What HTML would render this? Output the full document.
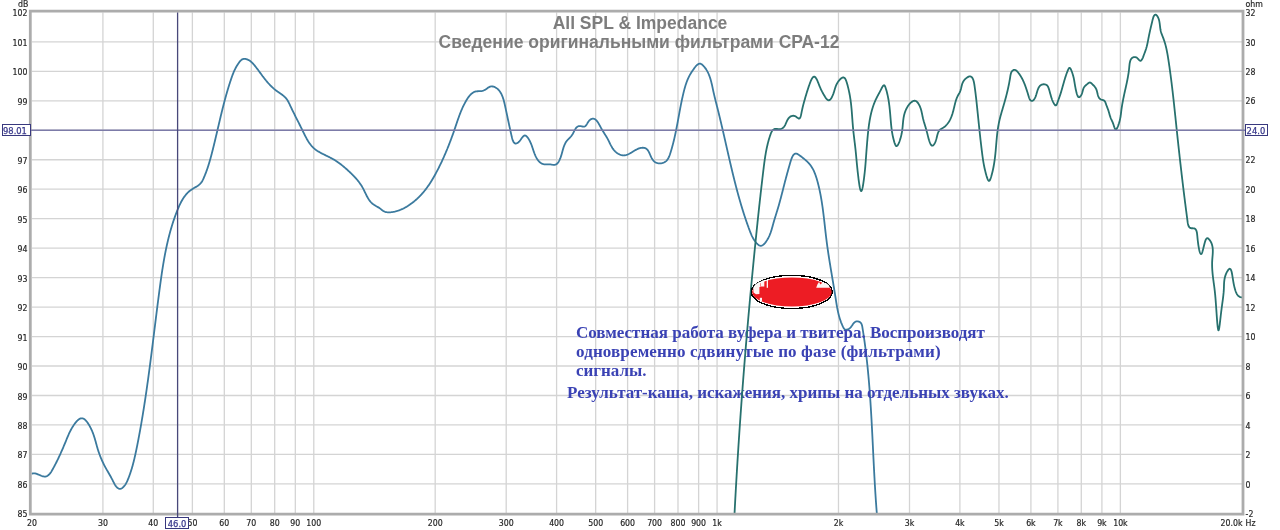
<!DOCTYPE html>
<html><head><meta charset="utf-8"><title>All SPL &amp; Impedance</title><style>
html,body{margin:0;padding:0;background:#fff;width:1280px;height:530px;overflow:hidden}
svg{display:block}
.g line{stroke:#d4d4d4;stroke-width:1.3}
.ax text{font-family:"DejaVu Sans Condensed","DejaVu Sans","Liberation Sans",sans-serif;font-stretch:condensed;font-size:8.7px;fill:#262626;stroke:#262626;stroke-width:0.18px}
.tt{font-family:"Liberation Sans",sans-serif;font-size:17.5px;font-weight:bold;fill:#7d7d7d}
.an{font-family:"Liberation Serif",serif;font-size:17px;font-weight:bold;fill:#3a42b4}
.cur{font-family:"DejaVu Sans Condensed","DejaVu Sans","Liberation Sans",sans-serif;font-stretch:condensed;font-size:9.3px;fill:#3a3a8c;stroke:#3a3a8c;stroke-width:0.25px}
</style></head><body>
<svg width="1280" height="530" viewBox="0 0 1280 530">
<rect width="1280" height="530" fill="#fff"/>
<g class="g">
<line x1="102.90" y1="12.4" x2="102.90" y2="513.0"/>
<line x1="153.29" y1="12.4" x2="153.29" y2="513.0"/>
<line x1="192.37" y1="12.4" x2="192.37" y2="513.0"/>
<line x1="224.31" y1="12.4" x2="224.31" y2="513.0"/>
<line x1="251.31" y1="12.4" x2="251.31" y2="513.0"/>
<line x1="274.69" y1="12.4" x2="274.69" y2="513.0"/>
<line x1="295.32" y1="12.4" x2="295.32" y2="513.0"/>
<line x1="313.78" y1="12.4" x2="313.78" y2="513.0"/>
<line x1="435.18" y1="12.4" x2="435.18" y2="513.0"/>
<line x1="506.20" y1="12.4" x2="506.20" y2="513.0"/>
<line x1="556.59" y1="12.4" x2="556.59" y2="513.0"/>
<line x1="595.67" y1="12.4" x2="595.67" y2="513.0"/>
<line x1="627.61" y1="12.4" x2="627.61" y2="513.0"/>
<line x1="654.61" y1="12.4" x2="654.61" y2="513.0"/>
<line x1="677.99" y1="12.4" x2="677.99" y2="513.0"/>
<line x1="698.62" y1="12.4" x2="698.62" y2="513.0"/>
<line x1="717.08" y1="12.4" x2="717.08" y2="513.0"/>
<line x1="838.48" y1="12.4" x2="838.48" y2="513.0"/>
<line x1="909.50" y1="12.4" x2="909.50" y2="513.0"/>
<line x1="959.89" y1="12.4" x2="959.89" y2="513.0"/>
<line x1="998.97" y1="12.4" x2="998.97" y2="513.0"/>
<line x1="1030.91" y1="12.4" x2="1030.91" y2="513.0"/>
<line x1="1057.91" y1="12.4" x2="1057.91" y2="513.0"/>
<line x1="1081.29" y1="12.4" x2="1081.29" y2="513.0"/>
<line x1="1101.92" y1="12.4" x2="1101.92" y2="513.0"/>
<line x1="1120.38" y1="12.4" x2="1120.38" y2="513.0"/>
<line x1="32.0" y1="483.90" x2="1242.0" y2="483.90"/>
<line x1="32.0" y1="454.43" x2="1242.0" y2="454.43"/>
<line x1="32.0" y1="424.96" x2="1242.0" y2="424.96"/>
<line x1="32.0" y1="395.49" x2="1242.0" y2="395.49"/>
<line x1="32.0" y1="366.02" x2="1242.0" y2="366.02"/>
<line x1="32.0" y1="336.55" x2="1242.0" y2="336.55"/>
<line x1="32.0" y1="307.08" x2="1242.0" y2="307.08"/>
<line x1="32.0" y1="277.61" x2="1242.0" y2="277.61"/>
<line x1="32.0" y1="248.14" x2="1242.0" y2="248.14"/>
<line x1="32.0" y1="218.67" x2="1242.0" y2="218.67"/>
<line x1="32.0" y1="189.20" x2="1242.0" y2="189.20"/>
<line x1="32.0" y1="159.73" x2="1242.0" y2="159.73"/>
<line x1="32.0" y1="130.26" x2="1242.0" y2="130.26"/>
<line x1="32.0" y1="100.79" x2="1242.0" y2="100.79"/>
<line x1="32.0" y1="71.32" x2="1242.0" y2="71.32"/>
<line x1="32.0" y1="41.85" x2="1242.0" y2="41.85"/>
</g>
<text x="640" y="29.2" class="tt" text-anchor="middle">All SPL &amp; Impedance</text>
<text x="639" y="48" class="tt" text-anchor="middle">Сведение оригинальными фильтрами СРА-12</text>
<defs><clipPath id="pc"><rect x="31.5" y="12" width="1210.5" height="501.5"/></clipPath></defs>
<g clip-path="url(#pc)" fill="none" stroke-linejoin="round" stroke-linecap="round">
<path id="blue" d="M32.15,473.63 L32.81,473.39 L33.54,473.29 L34.30,473.32 L35.11,473.45 L35.95,473.67 L36.82,473.95 L37.71,474.29 L38.61,474.66 L39.51,475.04 L40.42,475.41 L41.32,475.76 L42.20,476.07 L43.07,476.32 L43.91,476.48 L44.71,476.55 L45.48,476.51 L46.21,476.35 L46.90,476.10 L47.56,475.75 L48.19,475.32 L48.79,474.81 L49.36,474.23 L49.91,473.60 L50.44,472.91 L50.95,472.18 L51.44,471.42 L51.92,470.63 L52.39,469.83 L52.84,469.01 L53.29,468.19 L53.73,467.38 L54.17,466.57 L54.60,465.76 L55.03,464.95 L55.44,464.14 L55.86,463.33 L56.27,462.53 L56.67,461.73 L57.07,460.93 L57.46,460.13 L57.85,459.34 L58.23,458.54 L58.61,457.75 L58.98,456.95 L59.35,456.16 L59.72,455.37 L60.08,454.58 L60.44,453.80 L60.79,453.01 L61.14,452.22 L61.49,451.44 L61.84,450.66 L62.18,449.87 L62.52,449.09 L62.86,448.31 L63.19,447.53 L63.52,446.75 L63.85,445.97 L64.18,445.19 L64.51,444.41 L64.83,443.63 L65.15,442.85 L65.48,442.07 L65.80,441.29 L66.12,440.51 L66.43,439.73 L66.75,438.95 L67.07,438.18 L67.40,437.39 L67.72,436.61 L68.06,435.83 L68.40,435.04 L68.74,434.26 L69.10,433.47 L69.47,432.68 L69.86,431.88 L70.26,431.08 L70.67,430.28 L71.11,429.48 L71.56,428.67 L72.03,427.85 L72.52,427.03 L73.04,426.21 L73.58,425.38 L74.15,424.54 L74.75,423.71 L75.36,422.90 L76.00,422.11 L76.65,421.37 L77.32,420.67 L77.99,420.04 L78.68,419.49 L79.37,419.02 L80.07,418.66 L80.76,418.41 L81.45,418.28 L82.14,418.29 L82.83,418.43 L83.50,418.71 L84.16,419.09 L84.82,419.58 L85.45,420.16 L86.08,420.81 L86.69,421.53 L87.28,422.30 L87.85,423.11 L88.39,423.95 L88.92,424.80 L89.42,425.65 L89.90,426.50 L90.35,427.35 L90.78,428.19 L91.19,429.02 L91.58,429.86 L91.95,430.69 L92.30,431.51 L92.64,432.34 L92.96,433.16 L93.26,433.98 L93.55,434.80 L93.84,435.62 L94.10,436.43 L94.36,437.25 L94.61,438.06 L94.86,438.87 L95.10,439.68 L95.33,440.49 L95.55,441.31 L95.78,442.12 L96.00,442.93 L96.23,443.74 L96.45,444.56 L96.67,445.37 L96.90,446.19 L97.13,447.01 L97.37,447.83 L97.61,448.65 L97.86,449.47 L98.12,450.30 L98.39,451.13 L98.67,451.96 L98.96,452.80 L99.25,453.63 L99.56,454.47 L99.87,455.31 L100.19,456.14 L100.52,456.97 L100.86,457.80 L101.21,458.63 L101.56,459.46 L101.92,460.28 L102.28,461.09 L102.65,461.90 L103.03,462.71 L103.41,463.51 L103.80,464.30 L104.20,465.08 L104.60,465.85 L105.00,466.62 L105.41,467.38 L105.82,468.13 L106.24,468.87 L106.65,469.61 L107.07,470.35 L107.50,471.08 L107.92,471.81 L108.35,472.55 L108.77,473.28 L109.20,474.02 L109.63,474.77 L110.06,475.52 L110.48,476.28 L110.91,477.04 L111.33,477.82 L111.75,478.60 L112.17,479.40 L112.58,480.21 L112.99,481.04 L113.41,481.87 L113.83,482.71 L114.26,483.53 L114.71,484.34 L115.18,485.13 L115.69,485.87 L116.23,486.57 L116.82,487.22 L117.45,487.80 L118.12,488.28 L118.81,488.63 L119.53,488.83 L120.25,488.85 L120.97,488.68 L121.69,488.35 L122.39,487.88 L123.06,487.30 L123.71,486.65 L124.32,485.94 L124.88,485.21 L125.40,484.47 L125.88,483.71 L126.32,482.93 L126.74,482.15 L127.12,481.35 L127.49,480.54 L127.84,479.73 L128.17,478.92 L128.49,478.10 L128.81,477.28 L129.12,476.45 L129.42,475.63 L129.72,474.80 L130.01,473.97 L130.29,473.15 L130.57,472.32 L130.84,471.48 L131.11,470.65 L131.37,469.82 L131.63,468.98 L131.88,468.14 L132.12,467.31 L132.36,466.47 L132.60,465.63 L132.83,464.78 L133.06,463.94 L133.28,463.10 L133.50,462.25 L133.71,461.41 L133.92,460.56 L134.13,459.72 L134.34,458.87 L134.54,458.02 L134.73,457.17 L134.93,456.32 L135.12,455.47 L135.31,454.62 L135.50,453.77 L135.68,452.91 L135.86,452.06 L136.04,451.21 L136.22,450.35 L136.40,449.50 L136.57,448.65 L136.75,447.79 L136.92,446.94 L137.09,446.08 L137.26,445.23 L137.43,444.37 L137.60,443.51 L137.77,442.66 L137.93,441.80 L138.10,440.95 L138.26,440.09 L138.43,439.23 L138.59,438.38 L138.75,437.52 L138.91,436.66 L139.08,435.80 L139.23,434.95 L139.39,434.09 L139.55,433.23 L139.71,432.37 L139.87,431.51 L140.02,430.66 L140.18,429.80 L140.33,428.94 L140.48,428.08 L140.64,427.22 L140.79,426.36 L140.94,425.50 L141.09,424.64 L141.24,423.78 L141.39,422.92 L141.53,422.06 L141.68,421.20 L141.83,420.34 L141.97,419.48 L142.12,418.62 L142.26,417.76 L142.41,416.90 L142.55,416.04 L142.69,415.18 L142.83,414.32 L142.97,413.46 L143.11,412.60 L143.25,411.73 L143.39,410.87 L143.53,410.01 L143.67,409.15 L143.80,408.29 L143.94,407.43 L144.08,406.56 L144.21,405.70 L144.34,404.84 L144.48,403.98 L144.61,403.11 L144.74,402.25 L144.88,401.39 L145.01,400.52 L145.14,399.66 L145.27,398.80 L145.40,397.93 L145.53,397.07 L145.66,396.21 L145.78,395.34 L145.91,394.48 L146.04,393.61 L146.17,392.75 L146.29,391.89 L146.42,391.02 L146.54,390.16 L146.67,389.29 L146.79,388.43 L146.91,387.56 L147.04,386.70 L147.16,385.83 L147.28,384.97 L147.40,384.10 L147.53,383.24 L147.65,382.37 L147.77,381.51 L147.89,380.64 L148.01,379.78 L148.13,378.91 L148.25,378.05 L148.36,377.18 L148.48,376.32 L148.60,375.45 L148.72,374.58 L148.83,373.72 L148.95,372.85 L149.07,371.99 L149.18,371.12 L149.30,370.25 L149.41,369.39 L149.53,368.52 L149.64,367.65 L149.76,366.79 L149.87,365.92 L149.99,365.05 L150.10,364.19 L150.21,363.32 L150.33,362.45 L150.44,361.59 L150.55,360.72 L150.66,359.85 L150.77,358.99 L150.89,358.12 L151.00,357.25 L151.11,356.39 L151.22,355.52 L151.33,354.65 L151.44,353.79 L151.55,352.92 L151.66,352.05 L151.77,351.18 L151.88,350.32 L151.99,349.45 L152.10,348.58 L152.21,347.71 L152.32,346.85 L152.43,345.98 L152.54,345.11 L152.65,344.24 L152.76,343.38 L152.86,342.51 L152.97,341.64 L153.08,340.77 L153.19,339.91 L153.30,339.04 L153.41,338.17 L153.51,337.30 L153.62,336.44 L153.73,335.57 L153.84,334.70 L153.95,333.83 L154.05,332.97 L154.16,332.10 L154.27,331.23 L154.38,330.36 L154.48,329.50 L154.59,328.63 L154.70,327.76 L154.81,326.89 L154.91,326.03 L155.02,325.16 L155.13,324.29 L155.24,323.42 L155.35,322.56 L155.45,321.69 L155.56,320.82 L155.67,319.95 L155.78,319.09 L155.89,318.22 L155.99,317.35 L156.10,316.48 L156.21,315.62 L156.32,314.75 L156.43,313.88 L156.54,313.01 L156.65,312.15 L156.75,311.28 L156.86,310.41 L156.97,309.54 L157.08,308.68 L157.19,307.81 L157.30,306.94 L157.41,306.08 L157.52,305.21 L157.63,304.34 L157.74,303.48 L157.85,302.61 L157.96,301.74 L158.08,300.88 L158.19,300.01 L158.30,299.14 L158.41,298.28 L158.52,297.41 L158.64,296.54 L158.75,295.68 L158.86,294.81 L158.97,293.94 L159.09,293.08 L159.20,292.21 L159.32,291.34 L159.43,290.48 L159.54,289.61 L159.66,288.75 L159.77,287.88 L159.89,287.02 L160.01,286.15 L160.12,285.28 L160.24,284.42 L160.36,283.55 L160.48,282.69 L160.60,281.82 L160.72,280.96 L160.84,280.09 L160.96,279.23 L161.08,278.36 L161.20,277.50 L161.33,276.64 L161.45,275.77 L161.58,274.91 L161.70,274.05 L161.83,273.18 L161.96,272.32 L162.09,271.46 L162.22,270.60 L162.35,269.73 L162.49,268.87 L162.62,268.01 L162.76,267.15 L162.90,266.29 L163.04,265.43 L163.18,264.57 L163.32,263.71 L163.47,262.85 L163.61,261.99 L163.76,261.13 L163.91,260.27 L164.06,259.41 L164.21,258.55 L164.37,257.70 L164.52,256.84 L164.68,255.98 L164.84,255.13 L165.00,254.27 L165.17,253.42 L165.33,252.56 L165.50,251.71 L165.67,250.85 L165.85,250.00 L166.02,249.15 L166.20,248.29 L166.38,247.44 L166.56,246.59 L166.75,245.74 L166.93,244.89 L167.12,244.04 L167.32,243.19 L167.51,242.34 L167.71,241.49 L167.91,240.64 L168.11,239.80 L168.32,238.95 L168.52,238.10 L168.74,237.26 L168.95,236.41 L169.17,235.57 L169.39,234.73 L169.61,233.88 L169.84,233.04 L170.06,232.20 L170.30,231.36 L170.53,230.52 L170.77,229.68 L171.01,228.84 L171.26,228.00 L171.51,227.16 L171.76,226.33 L172.01,225.49 L172.27,224.65 L172.53,223.82 L172.80,222.99 L173.07,222.15 L173.34,221.32 L173.62,220.49 L173.90,219.66 L174.19,218.83 L174.47,218.00 L174.77,217.17 L175.06,216.34 L175.36,215.52 L175.66,214.69 L175.97,213.86 L176.28,213.04 L176.60,212.22 L176.92,211.39 L177.24,210.57 L177.57,209.75 L177.91,208.93 L178.25,208.12 L178.59,207.31 L178.95,206.50 L179.31,205.69 L179.68,204.89 L180.05,204.10 L180.44,203.31 L180.83,202.53 L181.24,201.76 L181.66,201.00 L182.09,200.24 L182.53,199.50 L182.98,198.76 L183.45,198.04 L183.93,197.32 L184.42,196.62 L184.93,195.93 L185.45,195.25 L186.00,194.59 L186.55,193.94 L187.13,193.31 L187.72,192.70 L188.33,192.10 L188.97,191.52 L189.63,190.96 L190.31,190.42 L191.01,189.91 L191.74,189.41 L192.49,188.94 L193.26,188.48 L194.03,188.02 L194.81,187.57 L195.58,187.12 L196.34,186.66 L197.10,186.19 L197.83,185.70 L198.54,185.19 L199.22,184.65 L199.87,184.08 L200.47,183.48 L201.03,182.83 L201.54,182.14 L202.01,181.42 L202.45,180.67 L202.86,179.89 L203.24,179.10 L203.61,178.29 L203.96,177.48 L204.31,176.66 L204.65,175.85 L204.98,175.03 L205.31,174.21 L205.63,173.39 L205.94,172.57 L206.25,171.75 L206.55,170.92 L206.84,170.10 L207.13,169.27 L207.42,168.44 L207.70,167.62 L207.97,166.79 L208.24,165.95 L208.50,165.12 L208.76,164.29 L209.02,163.46 L209.27,162.62 L209.52,161.79 L209.76,160.95 L210.00,160.11 L210.24,159.27 L210.48,158.43 L210.71,157.59 L210.94,156.75 L211.16,155.91 L211.39,155.07 L211.61,154.23 L211.83,153.38 L212.04,152.54 L212.26,151.70 L212.48,150.85 L212.69,150.01 L212.90,149.16 L213.11,148.31 L213.32,147.47 L213.53,146.62 L213.74,145.77 L213.95,144.92 L214.15,144.07 L214.36,143.23 L214.57,142.38 L214.77,141.53 L214.97,140.68 L215.18,139.83 L215.38,138.98 L215.58,138.13 L215.78,137.28 L215.98,136.42 L216.18,135.57 L216.39,134.72 L216.59,133.87 L216.78,133.02 L216.98,132.17 L217.18,131.32 L217.38,130.46 L217.58,129.61 L217.78,128.76 L217.98,127.91 L218.18,127.05 L218.38,126.20 L218.58,125.35 L218.78,124.50 L218.98,123.65 L219.18,122.79 L219.38,121.94 L219.58,121.09 L219.78,120.24 L219.98,119.39 L220.19,118.54 L220.39,117.68 L220.59,116.83 L220.80,115.98 L221.00,115.13 L221.21,114.28 L221.41,113.43 L221.62,112.58 L221.83,111.73 L222.04,110.88 L222.25,110.03 L222.46,109.19 L222.67,108.34 L222.89,107.49 L223.10,106.64 L223.32,105.80 L223.53,104.95 L223.75,104.10 L223.97,103.26 L224.19,102.41 L224.41,101.57 L224.64,100.73 L224.86,99.88 L225.09,99.04 L225.32,98.20 L225.55,97.36 L225.78,96.51 L226.01,95.67 L226.25,94.83 L226.49,94.00 L226.73,93.16 L226.97,92.32 L227.21,91.48 L227.45,90.65 L227.70,89.81 L227.95,88.98 L228.20,88.14 L228.46,87.31 L228.71,86.48 L228.97,85.65 L229.23,84.82 L229.49,83.99 L229.76,83.16 L230.03,82.33 L230.30,81.50 L230.57,80.68 L230.84,79.85 L231.12,79.03 L231.40,78.21 L231.69,77.39 L231.98,76.57 L232.28,75.75 L232.58,74.93 L232.89,74.12 L233.21,73.31 L233.54,72.50 L233.88,71.70 L234.23,70.90 L234.59,70.11 L234.97,69.31 L235.36,68.53 L235.76,67.74 L236.19,66.97 L236.62,66.19 L237.08,65.43 L237.56,64.67 L238.05,63.91 L238.57,63.16 L239.10,62.42 L239.66,61.70 L240.25,61.00 L240.87,60.37 L241.52,59.82 L242.21,59.38 L242.94,59.07 L243.72,58.89 L244.52,58.85 L245.34,58.91 L246.17,59.08 L247.01,59.34 L247.84,59.68 L248.65,60.09 L249.44,60.56 L250.19,61.07 L250.90,61.62 L251.58,62.20 L252.22,62.81 L252.84,63.44 L253.43,64.10 L254.00,64.76 L254.56,65.43 L255.11,66.12 L255.66,66.80 L256.20,67.49 L256.73,68.19 L257.27,68.88 L257.79,69.58 L258.32,70.29 L258.84,70.99 L259.35,71.70 L259.87,72.40 L260.39,73.11 L260.91,73.82 L261.42,74.52 L261.94,75.22 L262.46,75.93 L262.99,76.62 L263.51,77.32 L264.04,78.01 L264.58,78.70 L265.12,79.38 L265.66,80.06 L266.21,80.74 L266.77,81.40 L267.33,82.06 L267.91,82.72 L268.48,83.37 L269.07,84.01 L269.66,84.64 L270.26,85.26 L270.87,85.88 L271.49,86.49 L272.12,87.09 L272.75,87.68 L273.40,88.26 L274.05,88.83 L274.72,89.39 L275.39,89.94 L276.08,90.48 L276.78,91.01 L277.48,91.53 L278.20,92.03 L278.92,92.53 L279.65,93.03 L280.37,93.53 L281.10,94.03 L281.81,94.53 L282.51,95.05 L283.20,95.59 L283.86,96.13 L284.51,96.71 L285.13,97.30 L285.72,97.92 L286.28,98.58 L286.81,99.27 L287.30,99.99 L287.76,100.73 L288.20,101.50 L288.62,102.29 L289.02,103.09 L289.41,103.90 L289.79,104.71 L290.17,105.53 L290.55,106.34 L290.93,107.14 L291.31,107.94 L291.69,108.74 L292.07,109.53 L292.46,110.32 L292.84,111.11 L293.22,111.89 L293.61,112.67 L294.00,113.45 L294.38,114.22 L294.77,115.00 L295.16,115.77 L295.54,116.54 L295.93,117.31 L296.32,118.08 L296.71,118.85 L297.10,119.61 L297.48,120.38 L297.87,121.15 L298.26,121.92 L298.65,122.69 L299.04,123.46 L299.43,124.23 L299.82,125.01 L300.21,125.78 L300.60,126.56 L300.98,127.34 L301.37,128.13 L301.76,128.91 L302.15,129.70 L302.54,130.50 L302.92,131.30 L303.31,132.09 L303.70,132.90 L304.10,133.70 L304.49,134.50 L304.89,135.29 L305.30,136.09 L305.71,136.88 L306.13,137.66 L306.55,138.44 L306.99,139.21 L307.43,139.98 L307.88,140.73 L308.35,141.47 L308.82,142.21 L309.31,142.93 L309.81,143.63 L310.33,144.32 L310.86,145.00 L311.40,145.66 L311.97,146.30 L312.55,146.92 L313.15,147.53 L313.77,148.11 L314.40,148.67 L315.06,149.21 L315.74,149.73 L316.43,150.23 L317.13,150.71 L317.86,151.18 L318.59,151.64 L319.34,152.08 L320.10,152.51 L320.86,152.93 L321.64,153.34 L322.42,153.75 L323.21,154.14 L324.01,154.54 L324.80,154.93 L325.60,155.32 L326.41,155.70 L327.21,156.09 L328.01,156.48 L328.81,156.88 L329.60,157.27 L330.39,157.68 L331.18,158.09 L331.96,158.51 L332.72,158.95 L333.49,159.39 L334.24,159.84 L334.99,160.30 L335.73,160.77 L336.46,161.25 L337.18,161.73 L337.90,162.23 L338.61,162.73 L339.32,163.24 L340.02,163.76 L340.71,164.29 L341.40,164.82 L342.08,165.36 L342.76,165.91 L343.43,166.46 L344.10,167.01 L344.77,167.58 L345.42,168.14 L346.08,168.72 L346.73,169.29 L347.38,169.88 L348.02,170.46 L348.66,171.05 L349.30,171.64 L349.93,172.24 L350.56,172.84 L351.19,173.44 L351.81,174.05 L352.43,174.67 L353.04,175.28 L353.65,175.91 L354.25,176.54 L354.84,177.17 L355.43,177.81 L356.00,178.46 L356.57,179.11 L357.13,179.77 L357.69,180.44 L358.23,181.12 L358.76,181.80 L359.28,182.49 L359.79,183.20 L360.29,183.91 L360.78,184.62 L361.26,185.35 L361.72,186.09 L362.17,186.84 L362.60,187.60 L363.02,188.37 L363.43,189.15 L363.83,189.93 L364.23,190.72 L364.61,191.52 L364.99,192.32 L365.38,193.11 L365.76,193.91 L366.15,194.70 L366.54,195.48 L366.94,196.26 L367.36,197.03 L367.78,197.79 L368.23,198.53 L368.69,199.26 L369.16,199.97 L369.67,200.67 L370.19,201.34 L370.75,201.99 L371.33,202.62 L371.94,203.22 L372.59,203.79 L373.28,204.33 L374.00,204.84 L374.76,205.32 L375.54,205.79 L376.34,206.24 L377.14,206.69 L377.93,207.14 L378.72,207.61 L379.47,208.10 L380.20,208.62 L380.90,209.16 L381.58,209.70 L382.26,210.22 L382.95,210.71 L383.65,211.16 L384.39,211.53 L385.16,211.83 L385.96,212.05 L386.80,212.21 L387.65,212.31 L388.53,212.35 L389.41,212.34 L390.31,212.29 L391.21,212.20 L392.10,212.08 L392.99,211.94 L393.87,211.77 L394.74,211.59 L395.60,211.38 L396.44,211.15 L397.28,210.91 L398.11,210.65 L398.93,210.37 L399.74,210.07 L400.54,209.76 L401.34,209.42 L402.12,209.08 L402.90,208.72 L403.67,208.34 L404.43,207.95 L405.18,207.54 L405.93,207.12 L406.67,206.69 L407.40,206.24 L408.13,205.79 L408.85,205.32 L409.57,204.84 L410.28,204.34 L410.98,203.84 L411.68,203.33 L412.37,202.81 L413.05,202.27 L413.73,201.73 L414.40,201.17 L415.07,200.61 L415.73,200.04 L416.38,199.46 L417.03,198.87 L417.66,198.27 L418.30,197.67 L418.92,197.05 L419.54,196.43 L420.15,195.80 L420.75,195.17 L421.35,194.52 L421.94,193.87 L422.52,193.22 L423.09,192.55 L423.66,191.89 L424.22,191.21 L424.77,190.53 L425.31,189.84 L425.85,189.15 L426.37,188.46 L426.89,187.76 L427.41,187.05 L427.91,186.34 L428.41,185.63 L428.91,184.91 L429.39,184.19 L429.87,183.46 L430.35,182.73 L430.82,182.00 L431.28,181.26 L431.74,180.52 L432.19,179.77 L432.64,179.03 L433.08,178.28 L433.52,177.52 L433.95,176.77 L434.38,176.01 L434.80,175.25 L435.22,174.48 L435.64,173.72 L436.05,172.95 L436.46,172.18 L436.87,171.41 L437.27,170.64 L437.67,169.86 L438.07,169.09 L438.46,168.31 L438.85,167.53 L439.24,166.76 L439.63,165.97 L440.01,165.19 L440.39,164.41 L440.77,163.62 L441.14,162.84 L441.52,162.05 L441.89,161.26 L442.25,160.47 L442.62,159.68 L442.98,158.89 L443.34,158.09 L443.69,157.30 L444.05,156.50 L444.40,155.70 L444.75,154.91 L445.09,154.11 L445.44,153.30 L445.78,152.50 L446.12,151.70 L446.46,150.89 L446.79,150.09 L447.12,149.28 L447.46,148.48 L447.78,147.67 L448.11,146.86 L448.43,146.05 L448.76,145.23 L449.08,144.42 L449.39,143.61 L449.71,142.79 L450.02,141.98 L450.33,141.16 L450.64,140.34 L450.95,139.52 L451.26,138.70 L451.56,137.88 L451.86,137.06 L452.16,136.24 L452.46,135.42 L452.76,134.59 L453.05,133.77 L453.35,132.94 L453.64,132.12 L453.93,131.29 L454.21,130.46 L454.50,129.63 L454.79,128.80 L455.07,127.97 L455.35,127.14 L455.63,126.31 L455.91,125.48 L456.19,124.65 L456.47,123.81 L456.75,122.98 L457.03,122.15 L457.32,121.32 L457.60,120.49 L457.89,119.66 L458.17,118.83 L458.47,118.01 L458.76,117.18 L459.06,116.36 L459.36,115.54 L459.66,114.72 L459.97,113.90 L460.29,113.09 L460.61,112.28 L460.93,111.47 L461.26,110.66 L461.60,109.86 L461.95,109.06 L462.30,108.26 L462.66,107.47 L463.02,106.68 L463.40,105.89 L463.78,105.11 L464.18,104.34 L464.58,103.57 L464.99,102.80 L465.41,102.04 L465.84,101.28 L466.29,100.53 L466.74,99.78 L467.21,99.04 L467.68,98.31 L468.18,97.58 L468.68,96.87 L469.21,96.18 L469.75,95.51 L470.32,94.87 L470.91,94.26 L471.53,93.69 L472.18,93.17 L472.86,92.70 L473.58,92.29 L474.33,91.94 L475.13,91.66 L475.96,91.44 L476.84,91.31 L477.76,91.24 L478.70,91.21 L479.65,91.18 L480.59,91.14 L481.51,91.05 L482.39,90.88 L483.23,90.62 L484.03,90.28 L484.81,89.87 L485.57,89.40 L486.33,88.90 L487.10,88.38 L487.88,87.85 L488.67,87.37 L489.46,86.96 L490.27,86.65 L491.09,86.47 L491.91,86.43 L492.73,86.49 L493.54,86.67 L494.34,86.93 L495.11,87.28 L495.85,87.68 L496.56,88.14 L497.23,88.64 L497.86,89.18 L498.45,89.76 L499.01,90.38 L499.54,91.04 L500.03,91.72 L500.50,92.44 L500.93,93.18 L501.34,93.95 L501.73,94.75 L502.09,95.56 L502.43,96.39 L502.75,97.24 L503.04,98.11 L503.33,98.98 L503.59,99.87 L503.84,100.76 L504.08,101.66 L504.30,102.56 L504.52,103.46 L504.73,104.35 L504.93,105.25 L505.12,106.14 L505.31,107.02 L505.50,107.88 L505.69,108.74 L505.87,109.59 L506.05,110.44 L506.23,111.27 L506.41,112.10 L506.58,112.93 L506.76,113.75 L506.93,114.56 L507.11,115.38 L507.28,116.19 L507.45,117.00 L507.62,117.81 L507.79,118.62 L507.97,119.43 L508.14,120.24 L508.31,121.05 L508.49,121.87 L508.67,122.69 L508.84,123.52 L509.02,124.35 L509.20,125.19 L509.39,126.04 L509.57,126.90 L509.76,127.76 L509.95,128.64 L510.15,129.52 L510.34,130.42 L510.54,131.33 L510.75,132.25 L510.96,133.19 L511.17,134.14 L511.38,135.10 L511.61,136.08 L511.84,137.07 L512.08,138.04 L512.34,138.98 L512.62,139.88 L512.92,140.72 L513.26,141.48 L513.63,142.14 L514.04,142.70 L514.50,143.13 L515.00,143.41 L515.56,143.54 L516.17,143.49 L516.83,143.27 L517.52,142.90 L518.22,142.40 L518.92,141.78 L519.59,141.06 L520.24,140.27 L520.85,139.44 L521.45,138.60 L522.03,137.80 L522.60,137.06 L523.17,136.42 L523.73,135.92 L524.30,135.58 L524.87,135.45 L525.46,135.55 L526.06,135.88 L526.67,136.40 L527.26,137.06 L527.83,137.80 L528.37,138.59 L528.87,139.38 L529.33,140.17 L529.77,140.97 L530.17,141.77 L530.54,142.57 L530.89,143.38 L531.22,144.19 L531.54,145.00 L531.83,145.81 L532.12,146.63 L532.40,147.45 L532.68,148.28 L532.95,149.10 L533.22,149.93 L533.50,150.76 L533.79,151.59 L534.08,152.42 L534.40,153.26 L534.72,154.09 L535.07,154.93 L535.44,155.77 L535.83,156.59 L536.25,157.41 L536.69,158.21 L537.16,158.98 L537.65,159.72 L538.17,160.43 L538.72,161.10 L539.30,161.73 L539.91,162.30 L540.54,162.82 L541.21,163.28 L541.92,163.67 L542.65,163.98 L543.42,164.22 L544.23,164.38 L545.07,164.45 L545.95,164.45 L546.84,164.40 L547.76,164.35 L548.67,164.32 L549.59,164.35 L550.49,164.44 L551.38,164.58 L552.25,164.73 L553.09,164.85 L553.89,164.91 L554.66,164.89 L555.39,164.74 L556.06,164.45 L556.69,164.03 L557.28,163.49 L557.83,162.86 L558.33,162.15 L558.80,161.40 L559.23,160.61 L559.62,159.80 L559.99,158.98 L560.33,158.16 L560.64,157.32 L560.93,156.48 L561.21,155.62 L561.47,154.77 L561.72,153.91 L561.96,153.05 L562.20,152.18 L562.43,151.32 L562.67,150.45 L562.91,149.59 L563.16,148.73 L563.42,147.88 L563.69,147.03 L563.99,146.20 L564.30,145.38 L564.64,144.58 L565.00,143.80 L565.39,143.04 L565.82,142.30 L566.28,141.59 L566.78,140.91 L567.32,140.26 L567.90,139.64 L568.49,139.03 L569.11,138.42 L569.72,137.80 L570.33,137.17 L570.92,136.51 L571.49,135.81 L572.02,135.07 L572.52,134.29 L572.99,133.47 L573.43,132.63 L573.86,131.79 L574.28,130.95 L574.71,130.14 L575.15,129.36 L575.60,128.64 L576.08,127.97 L576.60,127.39 L577.16,126.89 L577.76,126.50 L578.43,126.23 L579.16,126.09 L579.97,126.09 L580.83,126.20 L581.71,126.35 L582.59,126.50 L583.45,126.58 L584.24,126.53 L584.94,126.31 L585.55,125.89 L586.09,125.32 L586.59,124.64 L587.06,123.87 L587.52,123.06 L588.01,122.24 L588.54,121.45 L589.12,120.72 L589.77,120.09 L590.46,119.55 L591.18,119.12 L591.90,118.83 L592.62,118.66 L593.31,118.65 L593.97,118.77 L594.61,119.03 L595.22,119.39 L595.82,119.86 L596.39,120.43 L596.95,121.07 L597.49,121.79 L598.02,122.56 L598.53,123.38 L599.03,124.24 L599.52,125.12 L600.01,126.02 L600.49,126.92 L600.96,127.80 L601.44,128.67 L601.91,129.50 L602.38,130.31 L602.84,131.08 L603.31,131.83 L603.77,132.57 L604.23,133.28 L604.68,133.98 L605.13,134.68 L605.57,135.37 L606.00,136.06 L606.43,136.76 L606.85,137.47 L607.25,138.18 L607.65,138.91 L608.05,139.66 L608.43,140.42 L608.81,141.20 L609.19,141.98 L609.58,142.76 L609.97,143.55 L610.36,144.34 L610.77,145.12 L611.19,145.90 L611.63,146.67 L612.08,147.42 L612.55,148.17 L613.05,148.89 L613.57,149.59 L614.13,150.28 L614.71,150.93 L615.33,151.56 L615.99,152.16 L616.68,152.72 L617.42,153.24 L618.19,153.72 L619.00,154.16 L619.84,154.54 L620.68,154.85 L621.54,155.10 L622.39,155.26 L623.23,155.34 L624.06,155.34 L624.88,155.26 L625.69,155.11 L626.48,154.89 L627.28,154.63 L628.06,154.31 L628.84,153.94 L629.62,153.54 L630.39,153.12 L631.16,152.67 L631.94,152.20 L632.71,151.72 L633.49,151.24 L634.27,150.77 L635.06,150.31 L635.85,149.86 L636.65,149.44 L637.47,149.05 L638.29,148.70 L639.12,148.39 L639.97,148.14 L640.83,147.94 L641.71,147.81 L642.58,147.75 L643.45,147.77 L644.28,147.88 L645.07,148.09 L645.80,148.39 L646.46,148.81 L647.05,149.33 L647.59,149.93 L648.08,150.61 L648.53,151.36 L648.95,152.15 L649.35,152.99 L649.74,153.86 L650.12,154.74 L650.51,155.64 L650.91,156.52 L651.33,157.40 L651.78,158.24 L652.25,159.05 L652.77,159.82 L653.32,160.53 L653.92,161.17 L654.57,161.73 L655.28,162.21 L656.03,162.61 L656.83,162.92 L657.65,163.15 L658.50,163.30 L659.37,163.38 L660.24,163.37 L661.11,163.30 L661.97,163.15 L662.81,162.93 L663.62,162.63 L664.39,162.27 L665.13,161.85 L665.80,161.36 L666.42,160.80 L666.99,160.19 L667.50,159.53 L667.97,158.82 L668.40,158.07 L668.79,157.29 L669.15,156.47 L669.49,155.64 L669.80,154.78 L670.09,153.91 L670.38,153.04 L670.65,152.17 L670.92,151.29 L671.18,150.42 L671.44,149.55 L671.69,148.68 L671.94,147.82 L672.18,146.95 L672.41,146.09 L672.65,145.22 L672.87,144.36 L673.10,143.50 L673.32,142.64 L673.53,141.78 L673.74,140.92 L673.95,140.06 L674.15,139.21 L674.35,138.35 L674.55,137.50 L674.74,136.64 L674.93,135.79 L675.12,134.94 L675.30,134.09 L675.48,133.24 L675.66,132.39 L675.84,131.54 L676.01,130.69 L676.18,129.84 L676.35,128.99 L676.52,128.14 L676.69,127.29 L676.85,126.44 L677.01,125.60 L677.18,124.75 L677.34,123.90 L677.49,123.05 L677.65,122.21 L677.81,121.36 L677.97,120.51 L678.12,119.67 L678.28,118.82 L678.43,117.97 L678.59,117.12 L678.74,116.27 L678.90,115.42 L679.05,114.57 L679.21,113.73 L679.36,112.88 L679.52,112.02 L679.68,111.17 L679.84,110.32 L680.00,109.47 L680.16,108.62 L680.32,107.76 L680.48,106.91 L680.65,106.05 L680.82,105.19 L680.99,104.34 L681.16,103.48 L681.33,102.62 L681.51,101.76 L681.69,100.90 L681.87,100.03 L682.05,99.17 L682.24,98.30 L682.43,97.44 L682.62,96.57 L682.82,95.70 L683.02,94.83 L683.22,93.96 L683.43,93.09 L683.64,92.22 L683.86,91.35 L684.08,90.48 L684.31,89.61 L684.54,88.75 L684.78,87.89 L685.03,87.04 L685.28,86.19 L685.54,85.35 L685.81,84.51 L686.08,83.68 L686.37,82.85 L686.66,82.04 L686.97,81.23 L687.28,80.43 L687.60,79.64 L687.93,78.87 L688.27,78.10 L688.63,77.35 L688.99,76.60 L689.37,75.87 L689.76,75.14 L690.17,74.41 L690.59,73.69 L691.04,72.96 L691.50,72.22 L691.99,71.48 L692.50,70.72 L693.03,69.95 L693.59,69.16 L694.17,68.36 L694.79,67.54 L695.42,66.73 L696.08,65.96 L696.75,65.25 L697.44,64.64 L698.14,64.15 L698.84,63.82 L699.54,63.66 L700.24,63.70 L700.94,63.92 L701.62,64.30 L702.30,64.80 L702.95,65.40 L703.58,66.05 L704.18,66.74 L704.75,67.44 L705.29,68.15 L705.81,68.87 L706.30,69.61 L706.76,70.36 L707.20,71.12 L707.62,71.89 L708.01,72.67 L708.38,73.45 L708.74,74.25 L709.07,75.06 L709.39,75.87 L709.69,76.69 L709.98,77.52 L710.25,78.35 L710.50,79.19 L710.75,80.03 L710.98,80.88 L711.21,81.73 L711.42,82.59 L711.63,83.45 L711.83,84.31 L712.03,85.17 L712.22,86.04 L712.41,86.90 L712.59,87.77 L712.77,88.63 L712.96,89.50 L713.14,90.36 L713.33,91.23 L713.52,92.09 L713.71,92.95 L713.91,93.80 L714.10,94.66 L714.30,95.51 L714.51,96.36 L714.71,97.21 L714.92,98.06 L715.12,98.91 L715.33,99.75 L715.54,100.60 L715.76,101.44 L715.97,102.29 L716.18,103.13 L716.40,103.97 L716.61,104.82 L716.82,105.66 L717.04,106.50 L717.25,107.34 L717.47,108.19 L717.68,109.03 L717.89,109.87 L718.10,110.71 L718.31,111.56 L718.52,112.40 L718.73,113.25 L718.94,114.09 L719.14,114.94 L719.35,115.78 L719.56,116.63 L719.76,117.47 L719.97,118.32 L720.17,119.17 L720.37,120.02 L720.57,120.86 L720.78,121.71 L720.98,122.56 L721.18,123.41 L721.38,124.26 L721.58,125.11 L721.78,125.95 L721.97,126.80 L722.17,127.65 L722.37,128.50 L722.57,129.35 L722.76,130.20 L722.96,131.06 L723.16,131.91 L723.35,132.76 L723.55,133.61 L723.74,134.46 L723.94,135.31 L724.13,136.16 L724.33,137.02 L724.52,137.87 L724.71,138.72 L724.91,139.57 L725.10,140.42 L725.30,141.28 L725.49,142.13 L725.68,142.98 L725.88,143.84 L726.07,144.69 L726.26,145.54 L726.46,146.39 L726.65,147.25 L726.85,148.10 L727.04,148.95 L727.23,149.81 L727.43,150.66 L727.62,151.51 L727.82,152.37 L728.01,153.22 L728.20,154.07 L728.40,154.92 L728.60,155.78 L728.79,156.63 L728.99,157.48 L729.18,158.34 L729.38,159.19 L729.58,160.04 L729.77,160.89 L729.97,161.75 L730.17,162.60 L730.37,163.45 L730.57,164.30 L730.77,165.15 L730.97,166.01 L731.17,166.86 L731.37,167.71 L731.57,168.56 L731.77,169.41 L731.98,170.26 L732.18,171.11 L732.38,171.96 L732.59,172.81 L732.80,173.66 L733.00,174.51 L733.21,175.36 L733.42,176.21 L733.63,177.06 L733.84,177.91 L734.05,178.76 L734.26,179.61 L734.47,180.45 L734.68,181.30 L734.90,182.15 L735.11,183.00 L735.33,183.84 L735.55,184.69 L735.76,185.53 L735.98,186.38 L736.20,187.22 L736.42,188.07 L736.65,188.91 L736.87,189.76 L737.09,190.60 L737.32,191.44 L737.55,192.29 L737.78,193.13 L738.01,193.97 L738.24,194.81 L738.47,195.65 L738.70,196.49 L738.94,197.33 L739.17,198.17 L739.41,199.01 L739.65,199.85 L739.89,200.69 L740.13,201.53 L740.37,202.36 L740.62,203.20 L740.86,204.04 L741.11,204.87 L741.36,205.70 L741.61,206.54 L741.86,207.37 L742.12,208.21 L742.37,209.04 L742.63,209.87 L742.89,210.70 L743.15,211.53 L743.41,212.36 L743.67,213.19 L743.94,214.02 L744.21,214.85 L744.48,215.67 L744.75,216.50 L745.02,217.33 L745.29,218.15 L745.57,218.98 L745.85,219.80 L746.13,220.62 L746.41,221.44 L746.70,222.27 L746.98,223.09 L747.27,223.91 L747.56,224.73 L747.85,225.54 L748.15,226.36 L748.45,227.18 L748.74,228.00 L749.05,228.81 L749.35,229.63 L749.65,230.44 L749.96,231.25 L750.27,232.06 L750.59,232.87 L750.92,233.68 L751.26,234.49 L751.61,235.29 L751.98,236.09 L752.37,236.88 L752.79,237.67 L753.22,238.46 L753.69,239.24 L754.18,240.02 L754.70,240.79 L755.26,241.55 L755.86,242.31 L756.49,243.05 L757.15,243.75 L757.84,244.39 L758.54,244.93 L759.25,245.37 L759.97,245.66 L760.69,245.79 L761.40,245.74 L762.10,245.51 L762.79,245.13 L763.46,244.63 L764.11,244.02 L764.73,243.35 L765.33,242.62 L765.90,241.86 L766.44,241.10 L766.95,240.33 L767.43,239.55 L767.88,238.76 L768.31,237.97 L768.72,237.17 L769.10,236.37 L769.47,235.56 L769.81,234.75 L770.14,233.93 L770.45,233.11 L770.74,232.28 L771.03,231.45 L771.30,230.62 L771.56,229.79 L771.81,228.95 L772.05,228.11 L772.29,227.28 L772.52,226.44 L772.75,225.60 L772.98,224.76 L773.21,223.93 L773.44,223.09 L773.67,222.26 L773.91,221.43 L774.15,220.60 L774.39,219.77 L774.64,218.95 L774.89,218.12 L775.14,217.30 L775.40,216.47 L775.65,215.65 L775.91,214.82 L776.17,214.00 L776.43,213.17 L776.68,212.34 L776.94,211.51 L777.20,210.68 L777.46,209.85 L777.71,209.01 L777.96,208.17 L778.21,207.33 L778.46,206.48 L778.70,205.64 L778.95,204.78 L779.19,203.93 L779.43,203.08 L779.66,202.22 L779.90,201.36 L780.13,200.50 L780.36,199.64 L780.59,198.78 L780.82,197.92 L781.05,197.06 L781.27,196.20 L781.50,195.34 L781.72,194.48 L781.94,193.62 L782.16,192.76 L782.38,191.91 L782.60,191.05 L782.82,190.20 L783.03,189.35 L783.25,188.50 L783.46,187.65 L783.68,186.81 L783.89,185.97 L784.11,185.14 L784.32,184.31 L784.53,183.48 L784.74,182.65 L784.95,181.83 L785.16,181.02 L785.38,180.21 L785.59,179.41 L785.80,178.61 L786.01,177.81 L786.22,177.02 L786.43,176.24 L786.65,175.45 L786.86,174.65 L787.08,173.86 L787.30,173.05 L787.53,172.24 L787.76,171.41 L787.99,170.58 L788.23,169.73 L788.47,168.86 L788.72,167.97 L788.97,167.06 L789.23,166.13 L789.50,165.17 L789.77,164.19 L790.05,163.19 L790.35,162.17 L790.65,161.17 L790.97,160.17 L791.30,159.21 L791.66,158.28 L792.03,157.40 L792.42,156.58 L792.84,155.83 L793.28,155.17 L793.74,154.60 L794.24,154.14 L794.77,153.80 L795.32,153.59 L795.91,153.52 L796.54,153.61 L797.20,153.84 L797.89,154.19 L798.60,154.64 L799.32,155.16 L800.05,155.71 L800.78,156.27 L801.51,156.83 L802.23,157.39 L802.95,157.96 L803.66,158.52 L804.36,159.09 L805.05,159.67 L805.73,160.25 L806.39,160.84 L807.04,161.44 L807.67,162.05 L808.28,162.67 L808.87,163.31 L809.44,163.96 L809.98,164.63 L810.51,165.31 L811.01,166.00 L811.49,166.71 L811.94,167.44 L812.38,168.17 L812.80,168.92 L813.20,169.68 L813.59,170.45 L813.95,171.23 L814.31,172.02 L814.64,172.82 L814.97,173.63 L815.28,174.44 L815.57,175.26 L815.86,176.09 L816.14,176.92 L816.40,177.75 L816.66,178.59 L816.91,179.44 L817.15,180.28 L817.39,181.13 L817.62,181.98 L817.85,182.83 L818.07,183.68 L818.28,184.53 L818.49,185.38 L818.70,186.23 L818.90,187.08 L819.10,187.94 L819.29,188.79 L819.48,189.64 L819.67,190.50 L819.85,191.36 L820.02,192.21 L820.20,193.07 L820.36,193.93 L820.53,194.79 L820.69,195.65 L820.85,196.51 L821.00,197.37 L821.15,198.23 L821.30,199.09 L821.45,199.95 L821.59,200.81 L821.73,201.68 L821.86,202.54 L822.00,203.40 L822.13,204.27 L822.26,205.13 L822.38,206.00 L822.51,206.86 L822.63,207.73 L822.75,208.59 L822.86,209.46 L822.98,210.32 L823.09,211.19 L823.20,212.06 L823.31,212.92 L823.42,213.79 L823.53,214.66 L823.64,215.53 L823.74,216.39 L823.84,217.26 L823.95,218.13 L824.05,219.00 L824.15,219.87 L824.25,220.74 L824.35,221.60 L824.45,222.47 L824.54,223.34 L824.64,224.21 L824.74,225.08 L824.84,225.95 L824.93,226.82 L825.03,227.69 L825.13,228.55 L825.23,229.42 L825.32,230.29 L825.42,231.16 L825.52,232.03 L825.62,232.90 L825.72,233.76 L825.82,234.63 L825.92,235.50 L826.03,236.37 L826.13,237.23 L826.24,238.10 L826.34,238.97 L826.45,239.83 L826.56,240.70 L826.67,241.57 L826.78,242.43 L826.90,243.30 L827.01,244.16 L827.13,245.03 L827.25,245.89 L827.37,246.76 L827.49,247.62 L827.61,248.48 L827.74,249.35 L827.86,250.21 L827.99,251.07 L828.12,251.94 L828.24,252.80 L828.37,253.66 L828.50,254.52 L828.64,255.39 L828.77,256.25 L828.90,257.11 L829.04,257.97 L829.17,258.83 L829.31,259.70 L829.44,260.56 L829.58,261.42 L829.72,262.28 L829.86,263.14 L830.00,264.00 L830.14,264.86 L830.28,265.72 L830.42,266.59 L830.56,267.45 L830.71,268.31 L830.85,269.17 L830.99,270.03 L831.13,270.89 L831.28,271.75 L831.42,272.61 L831.57,273.47 L831.71,274.33 L831.85,275.19 L832.00,276.05 L832.14,276.92 L832.29,277.78 L832.43,278.64 L832.58,279.50 L832.72,280.36 L832.87,281.22 L833.01,282.08 L833.15,282.94 L833.30,283.81 L833.44,284.67 L833.58,285.53 L833.73,286.39 L833.87,287.25 L834.01,288.12 L834.15,288.98 L834.29,289.84 L834.43,290.70 L834.57,291.57 L834.71,292.43 L834.85,293.29 L834.99,294.16 L835.12,295.02 L835.26,295.89 L835.40,296.75 L835.53,297.62 L835.66,298.48 L835.80,299.35 L835.93,300.21 L836.07,301.07 L836.20,301.94 L836.34,302.80 L836.48,303.67 L836.63,304.53 L836.77,305.39 L836.92,306.25 L837.08,307.11 L837.23,307.97 L837.40,308.83 L837.57,309.69 L837.74,310.55 L837.92,311.40 L838.11,312.25 L838.31,313.10 L838.51,313.95 L838.72,314.80 L838.94,315.64 L839.17,316.49 L839.41,317.33 L839.66,318.17 L839.92,319.00 L840.19,319.83 L840.47,320.67 L840.77,321.49 L841.07,322.32 L841.39,323.14 L841.73,323.96 L842.07,324.77 L842.43,325.58 L842.81,326.39 L843.21,327.19 L843.63,327.94 L844.10,328.61 L844.63,329.16 L845.23,329.54 L845.91,329.74 L846.67,329.73 L847.48,329.55 L848.30,329.20 L849.12,328.72 L849.90,328.11 L850.63,327.39 L851.29,326.60 L851.89,325.75 L852.46,324.90 L853.02,324.07 L853.60,323.29 L854.20,322.62 L854.87,322.08 L855.60,321.69 L856.37,321.45 L857.16,321.35 L857.96,321.38 L858.73,321.55 L859.45,321.83 L860.11,322.22 L860.68,322.72 L861.14,323.32 L861.52,324.00 L861.81,324.75 L862.04,325.56 L862.23,326.40 L862.39,327.27 L862.53,328.15 L862.67,329.03 L862.81,329.91 L862.95,330.79 L863.09,331.67 L863.22,332.55 L863.36,333.43 L863.49,334.31 L863.62,335.19 L863.75,336.07 L863.88,336.94 L864.01,337.82 L864.14,338.70 L864.26,339.58 L864.38,340.46 L864.51,341.34 L864.63,342.21 L864.75,343.09 L864.87,343.97 L864.98,344.84 L865.10,345.72 L865.21,346.60 L865.33,347.47 L865.44,348.35 L865.55,349.23 L865.66,350.10 L865.77,350.98 L865.88,351.85 L865.98,352.73 L866.09,353.60 L866.19,354.48 L866.29,355.35 L866.40,356.23 L866.50,357.10 L866.60,357.98 L866.70,358.85 L866.79,359.73 L866.89,360.60 L866.98,361.47 L867.08,362.35 L867.17,363.22 L867.26,364.09 L867.36,364.97 L867.45,365.84 L867.54,366.71 L867.62,367.58 L867.71,368.46 L867.80,369.33 L867.88,370.20 L867.97,371.07 L868.05,371.95 L868.13,372.82 L868.21,373.69 L868.30,374.56 L868.38,375.43 L868.45,376.30 L868.53,377.18 L868.61,378.05 L868.69,378.92 L868.76,379.79 L868.84,380.66 L868.91,381.53 L868.98,382.40 L869.06,383.27 L869.13,384.14 L869.20,385.01 L869.27,385.88 L869.34,386.75 L869.41,387.62 L869.48,388.49 L869.54,389.36 L869.61,390.23 L869.67,391.10 L869.74,391.97 L869.80,392.84 L869.87,393.71 L869.93,394.58 L869.99,395.45 L870.05,396.32 L870.12,397.19 L870.18,398.06 L870.24,398.93 L870.30,399.80 L870.35,400.67 L870.41,401.53 L870.47,402.40 L870.53,403.27 L870.58,404.14 L870.64,405.01 L870.69,405.88 L870.75,406.75 L870.80,407.62 L870.86,408.48 L870.91,409.35 L870.96,410.22 L871.02,411.09 L871.07,411.96 L871.12,412.83 L871.17,413.69 L871.22,414.56 L871.27,415.43 L871.32,416.30 L871.37,417.17 L871.42,418.04 L871.47,418.90 L871.52,419.77 L871.57,420.64 L871.61,421.51 L871.66,422.38 L871.71,423.24 L871.76,424.11 L871.80,424.98 L871.85,425.85 L871.89,426.72 L871.94,427.59 L871.99,428.45 L872.03,429.32 L872.08,430.19 L872.12,431.06 L872.16,431.93 L872.21,432.79 L872.25,433.66 L872.30,434.53 L872.34,435.40 L872.38,436.27 L872.43,437.14 L872.47,438.00 L872.51,438.87 L872.56,439.74 L872.60,440.61 L872.64,441.48 L872.69,442.35 L872.73,443.21 L872.77,444.08 L872.81,444.95 L872.86,445.82 L872.90,446.69 L872.94,447.56 L872.98,448.43 L873.02,449.30 L873.07,450.17 L873.11,451.03 L873.15,451.90 L873.19,452.77 L873.24,453.64 L873.28,454.51 L873.32,455.38 L873.36,456.25 L873.41,457.12 L873.45,457.99 L873.49,458.86 L873.54,459.73 L873.58,460.60 L873.62,461.47 L873.67,462.34 L873.71,463.21 L873.75,464.08 L873.80,464.95 L873.84,465.82 L873.89,466.69 L873.93,467.56 L873.98,468.43 L874.02,469.30 L874.07,470.17 L874.11,471.04 L874.16,471.91 L874.20,472.79 L874.25,473.66 L874.30,474.53 L874.34,475.40 L874.39,476.27 L874.44,477.14 L874.49,478.01 L874.54,478.89 L874.58,479.76 L874.63,480.63 L874.68,481.50 L874.73,482.38 L874.78,483.25 L874.83,484.12 L874.88,484.99 L874.94,485.87 L874.99,486.74 L875.04,487.61 L875.09,488.49 L875.15,489.36 L875.20,490.24 L875.25,491.11 L875.31,491.98 L875.36,492.86 L875.42,493.73 L875.48,494.61 L875.53,495.48 L875.59,496.36 L875.65,497.23 L875.71,498.11 L875.76,498.98 L875.82,499.86 L875.88,500.73 L875.95,501.61 L876.01,502.49 L876.07,503.36 L876.13,504.24 L876.20,505.12 L876.26,505.99 L876.32,506.87 L876.39,507.75 L876.46,508.62 L876.52,509.50 L876.59,510.38 L876.66,511.26 L876.73,512.14 L876.80,513.02 L876.87,513.89 L876.94,514.77 L877.01,515.65 L877.08,516.53 L877.16,517.41 L877.23,518.29 L877.31,519.17 L877.38,520.05" stroke="#3b7a9e" stroke-width="1.8"/>
</g>
<text class="an" x="576" y="338">Совместная работа вуфера и твитера. Воспроизводят</text>
<text class="an" x="576" y="357" textLength="364.7" lengthAdjust="spacing">одновременно сдвинутые по фазе (фильтрами)</text>
<text class="an" x="576" y="375.5">сигналы.</text>
<text class="an" x="567" y="397.8">Результат-каша, искажения, хрипы на отдельных звуках.</text>
<g clip-path="url(#pc)" fill="none" stroke-linejoin="round" stroke-linecap="round">
<path id="teal" d="M734.20,520.00 L734.25,519.06 L734.30,518.11 L734.35,517.16 L734.39,516.21 L734.44,515.27 L734.49,514.32 L734.54,513.37 L734.59,512.42 L734.64,511.48 L734.69,510.53 L734.74,509.58 L734.78,508.64 L734.83,507.69 L734.88,506.74 L734.93,505.79 L734.98,504.85 L735.04,503.90 L735.09,502.95 L735.14,502.01 L735.19,501.06 L735.24,500.11 L735.29,499.17 L735.34,498.22 L735.39,497.27 L735.45,496.33 L735.50,495.38 L735.55,494.43 L735.60,493.49 L735.66,492.54 L735.71,491.59 L735.76,490.65 L735.81,489.70 L735.87,488.75 L735.92,487.81 L735.97,486.86 L736.03,485.91 L736.08,484.97 L736.14,484.02 L736.19,483.07 L736.25,482.13 L736.30,481.18 L736.36,480.23 L736.41,479.29 L736.47,478.34 L736.52,477.40 L736.58,476.45 L736.63,475.50 L736.69,474.56 L736.75,473.61 L736.80,472.66 L736.86,471.72 L736.92,470.77 L736.97,469.83 L737.03,468.88 L737.09,467.93 L737.14,466.99 L737.20,466.04 L737.26,465.09 L737.32,464.15 L737.38,463.20 L737.43,462.26 L737.49,461.31 L737.55,460.36 L737.61,459.42 L737.67,458.47 L737.73,457.53 L737.79,456.58 L737.85,455.63 L737.91,454.69 L737.97,453.74 L738.03,452.80 L738.09,451.85 L738.15,450.91 L738.21,449.96 L738.27,449.01 L738.33,448.07 L738.39,447.12 L738.45,446.18 L738.51,445.23 L738.57,444.29 L738.64,443.34 L738.70,442.39 L738.76,441.45 L738.82,440.50 L738.88,439.56 L738.95,438.61 L739.01,437.67 L739.07,436.72 L739.14,435.78 L739.20,434.83 L739.26,433.89 L739.33,432.94 L739.39,431.99 L739.45,431.05 L739.52,430.10 L739.58,429.16 L739.65,428.21 L739.71,427.27 L739.78,426.32 L739.84,425.38 L739.91,424.43 L739.97,423.49 L740.04,422.54 L740.10,421.60 L740.17,420.65 L740.24,419.71 L740.30,418.76 L740.37,417.82 L740.43,416.87 L740.50,415.92 L740.57,414.98 L740.63,414.03 L740.70,413.09 L740.77,412.14 L740.84,411.20 L740.90,410.25 L740.97,409.31 L741.04,408.36 L741.11,407.42 L741.18,406.47 L741.25,405.53 L741.31,404.58 L741.38,403.64 L741.45,402.69 L741.52,401.75 L741.59,400.81 L741.66,399.86 L741.73,398.92 L741.80,397.97 L741.87,397.03 L741.94,396.08 L742.01,395.14 L742.08,394.19 L742.15,393.25 L742.22,392.30 L742.29,391.36 L742.36,390.41 L742.44,389.47 L742.51,388.52 L742.58,387.58 L742.65,386.63 L742.72,385.69 L742.80,384.74 L742.87,383.80 L742.94,382.86 L743.01,381.91 L743.09,380.97 L743.16,380.02 L743.23,379.08 L743.30,378.13 L743.38,377.19 L743.45,376.24 L743.53,375.30 L743.60,374.35 L743.67,373.41 L743.75,372.47 L743.82,371.52 L743.90,370.58 L743.97,369.63 L744.05,368.69 L744.12,367.74 L744.20,366.80 L744.27,365.86 L744.35,364.91 L744.42,363.97 L744.50,363.02 L744.58,362.08 L744.65,361.13 L744.73,360.19 L744.80,359.24 L744.88,358.30 L744.96,357.36 L745.04,356.41 L745.11,355.47 L745.19,354.52 L745.27,353.58 L745.34,352.64 L745.42,351.69 L745.50,350.75 L745.58,349.80 L745.66,348.86 L745.74,347.91 L745.81,346.97 L745.89,346.03 L745.97,345.08 L746.05,344.14 L746.13,343.19 L746.21,342.25 L746.29,341.31 L746.37,340.36 L746.45,339.42 L746.53,338.47 L746.61,337.53 L746.69,336.59 L746.77,335.64 L746.85,334.70 L746.93,333.75 L747.01,332.81 L747.09,331.87 L747.17,330.92 L747.26,329.98 L747.34,329.03 L747.42,328.09 L747.50,327.15 L747.58,326.20 L747.66,325.26 L747.75,324.31 L747.83,323.37 L747.91,322.43 L747.99,321.48 L748.08,320.54 L748.16,319.60 L748.24,318.65 L748.33,317.71 L748.41,316.76 L748.49,315.82 L748.58,314.88 L748.66,313.93 L748.75,312.99 L748.83,312.04 L748.92,311.10 L749.00,310.16 L749.09,309.21 L749.17,308.27 L749.26,307.33 L749.34,306.38 L749.43,305.44 L749.51,304.49 L749.60,303.55 L749.68,302.61 L749.77,301.66 L749.86,300.72 L749.94,299.78 L750.03,298.83 L750.11,297.89 L750.20,296.95 L750.29,296.00 L750.38,295.06 L750.46,294.11 L750.55,293.17 L750.64,292.23 L750.73,291.28 L750.81,290.34 L750.90,289.40 L750.99,288.45 L751.08,287.51 L751.17,286.57 L751.25,285.62 L751.34,284.68 L751.43,283.74 L751.52,282.79 L751.61,281.85 L751.70,280.90 L751.79,279.96 L751.88,279.02 L751.97,278.07 L752.06,277.13 L752.15,276.19 L752.24,275.24 L752.33,274.30 L752.42,273.36 L752.51,272.41 L752.60,271.47 L752.69,270.53 L752.78,269.58 L752.87,268.64 L752.97,267.70 L753.06,266.75 L753.15,265.81 L753.24,264.87 L753.33,263.92 L753.42,262.98 L753.52,262.03 L753.61,261.09 L753.70,260.15 L753.79,259.20 L753.89,258.26 L753.98,257.32 L754.07,256.37 L754.17,255.43 L754.26,254.49 L754.35,253.54 L754.45,252.60 L754.54,251.66 L754.64,250.71 L754.73,249.77 L754.82,248.83 L754.92,247.88 L755.01,246.94 L755.11,246.00 L755.20,245.05 L755.30,244.11 L755.39,243.17 L755.49,242.22 L755.58,241.28 L755.68,240.34 L755.78,239.39 L755.87,238.45 L755.97,237.51 L756.06,236.56 L756.16,235.62 L756.26,234.68 L756.35,233.73 L756.45,232.79 L756.55,231.85 L756.64,230.90 L756.74,229.96 L756.84,229.02 L756.94,228.07 L757.03,227.13 L757.13,226.19 L757.23,225.24 L757.33,224.30 L757.43,223.36 L757.52,222.41 L757.62,221.47 L757.72,220.53 L757.82,219.59 L757.92,218.64 L758.02,217.70 L758.12,216.76 L758.22,215.82 L758.32,214.87 L758.42,213.93 L758.52,212.99 L758.62,212.04 L758.72,211.10 L758.83,210.16 L758.93,209.22 L759.03,208.28 L759.13,207.33 L759.23,206.39 L759.34,205.45 L759.44,204.51 L759.54,203.57 L759.65,202.62 L759.75,201.68 L759.85,200.74 L759.96,199.80 L760.06,198.86 L760.17,197.92 L760.27,196.98 L760.38,196.04 L760.48,195.09 L760.59,194.15 L760.69,193.21 L760.80,192.27 L760.90,191.33 L761.01,190.39 L761.12,189.45 L761.23,188.51 L761.33,187.57 L761.44,186.63 L761.55,185.69 L761.66,184.75 L761.77,183.81 L761.88,182.87 L761.99,181.94 L762.10,181.00 L762.21,180.06 L762.32,179.12 L762.43,178.18 L762.54,177.24 L762.65,176.30 L762.76,175.37 L762.87,174.43 L762.99,173.49 L763.10,172.55 L763.21,171.61 L763.32,170.68 L763.44,169.74 L763.55,168.80 L763.67,167.87 L763.78,166.93 L763.90,165.99 L764.02,165.06 L764.14,164.12 L764.26,163.19 L764.38,162.25 L764.51,161.31 L764.64,160.38 L764.77,159.44 L764.91,158.51 L765.05,157.57 L765.19,156.64 L765.34,155.70 L765.49,154.77 L765.65,153.83 L765.81,152.90 L765.98,151.96 L766.15,151.03 L766.33,150.09 L766.52,149.16 L766.71,148.22 L766.91,147.29 L767.12,146.35 L767.34,145.42 L767.56,144.48 L767.79,143.55 L768.03,142.61 L768.27,141.68 L768.53,140.74 L768.80,139.81 L769.07,138.87 L769.36,137.94 L769.65,137.00 L769.96,136.07 L770.27,135.13 L770.60,134.20 L770.94,133.27 L771.32,132.38 L771.74,131.54 L772.22,130.78 L772.77,130.12 L773.41,129.58 L774.16,129.20 L775.02,128.98 L776.00,128.94 L777.05,128.99 L778.13,129.08 L779.19,129.13 L780.20,129.05 L781.12,128.85 L781.97,128.51 L782.74,128.06 L783.42,127.49 L784.03,126.82 L784.56,126.06 L785.03,125.24 L785.47,124.35 L785.88,123.44 L786.28,122.50 L786.69,121.56 L787.12,120.64 L787.59,119.75 L788.11,118.91 L788.70,118.14 L789.35,117.45 L790.04,116.85 L790.78,116.37 L791.56,116.01 L792.37,115.78 L793.21,115.71 L794.07,115.80 L794.93,116.07 L795.81,116.54 L796.68,117.18 L797.51,117.84 L798.29,118.38 L798.98,118.62 L799.56,118.45 L800.04,117.92 L800.44,117.09 L800.78,116.05 L801.07,114.87 L801.33,113.62 L801.57,112.38 L801.81,111.19 L802.04,110.06 L802.28,108.99 L802.51,107.96 L802.74,106.99 L802.97,106.05 L803.19,105.14 L803.42,104.27 L803.65,103.43 L803.87,102.60 L804.10,101.80 L804.32,101.00 L804.54,100.22 L804.77,99.44 L804.99,98.66 L805.22,97.87 L805.45,97.08 L805.68,96.28 L805.92,95.47 L806.16,94.64 L806.41,93.79 L806.68,92.92 L806.95,92.03 L807.24,91.11 L807.54,90.17 L807.85,89.19 L808.19,88.18 L808.54,87.13 L808.91,86.05 L809.30,84.92 L809.72,83.76 L810.15,82.61 L810.60,81.48 L811.07,80.40 L811.54,79.40 L812.03,78.52 L812.53,77.77 L813.03,77.18 L813.53,76.79 L814.04,76.61 L814.55,76.68 L815.05,76.99 L815.55,77.50 L816.04,78.19 L816.53,79.02 L817.01,79.96 L817.48,80.99 L817.94,82.07 L818.39,83.18 L818.82,84.28 L819.24,85.34 L819.64,86.34 L820.03,87.28 L820.42,88.17 L820.80,89.02 L821.18,89.83 L821.57,90.63 L821.96,91.41 L822.38,92.20 L822.82,93.00 L823.28,93.82 L823.78,94.67 L824.31,95.57 L824.88,96.52 L825.48,97.47 L826.11,98.37 L826.77,99.17 L827.43,99.80 L828.10,100.22 L828.77,100.35 L829.42,100.18 L830.06,99.73 L830.67,99.05 L831.26,98.21 L831.81,97.24 L832.32,96.20 L832.79,95.14 L833.20,94.10 L833.56,93.10 L833.89,92.13 L834.18,91.20 L834.46,90.29 L834.72,89.40 L834.98,88.54 L835.25,87.68 L835.54,86.84 L835.85,86.00 L836.19,85.16 L836.58,84.32 L837.03,83.48 L837.54,82.62 L838.11,81.75 L838.76,80.87 L839.47,80.02 L840.20,79.23 L840.96,78.53 L841.71,77.98 L842.44,77.59 L843.13,77.40 L843.75,77.45 L844.32,77.73 L844.83,78.21 L845.29,78.86 L845.70,79.64 L846.08,80.54 L846.43,81.51 L846.75,82.52 L847.06,83.56 L847.35,84.58 L847.63,85.60 L847.89,86.62 L848.15,87.62 L848.39,88.62 L848.63,89.61 L848.85,90.60 L849.06,91.58 L849.26,92.55 L849.46,93.52 L849.64,94.48 L849.81,95.44 L849.98,96.39 L850.14,97.34 L850.28,98.28 L850.43,99.23 L850.56,100.16 L850.69,101.10 L850.81,102.03 L850.93,102.96 L851.04,103.88 L851.14,104.80 L851.24,105.73 L851.33,106.65 L851.42,107.56 L851.51,108.48 L851.59,109.40 L851.67,110.31 L851.75,111.23 L851.82,112.14 L851.89,113.06 L851.96,113.97 L852.03,114.89 L852.10,115.81 L852.17,116.72 L852.23,117.64 L852.30,118.57 L852.37,119.49 L852.44,120.42 L852.50,121.35 L852.57,122.28 L852.65,123.21 L852.72,124.15 L852.80,125.09 L852.88,126.04 L852.96,126.99 L853.05,127.94 L853.14,128.90 L853.23,129.87 L853.33,130.84 L853.43,131.81 L853.54,132.79 L853.65,133.76 L853.76,134.74 L853.87,135.72 L853.99,136.70 L854.10,137.67 L854.22,138.65 L854.34,139.62 L854.46,140.58 L854.57,141.54 L854.69,142.49 L854.81,143.44 L854.92,144.37 L855.03,145.30 L855.14,146.21 L855.24,147.12 L855.34,148.01 L855.44,148.89 L855.54,149.76 L855.63,150.61 L855.71,151.46 L855.80,152.30 L855.88,153.14 L855.96,153.97 L856.04,154.80 L856.12,155.63 L856.20,156.47 L856.27,157.30 L856.35,158.14 L856.43,158.99 L856.51,159.84 L856.59,160.71 L856.67,161.58 L856.75,162.47 L856.84,163.38 L856.93,164.30 L857.02,165.23 L857.11,166.19 L857.21,167.17 L857.31,168.17 L857.42,169.20 L857.53,170.25 L857.65,171.33 L857.77,172.44 L857.90,173.59 L858.04,174.76 L858.18,175.97 L858.33,177.22 L858.48,178.50 L858.65,179.79 L858.82,181.09 L858.99,182.38 L859.18,183.63 L859.36,184.84 L859.55,185.99 L859.75,187.06 L859.95,188.04 L860.15,188.91 L860.36,189.66 L860.57,190.27 L860.78,190.72 L860.99,191.01 L861.20,191.10 L861.42,191.00 L861.63,190.71 L861.85,190.25 L862.06,189.64 L862.27,188.89 L862.48,188.02 L862.69,187.04 L862.89,185.97 L863.09,184.82 L863.28,183.62 L863.46,182.38 L863.64,181.12 L863.82,179.84 L863.98,178.57 L864.14,177.33 L864.28,176.13 L864.42,174.96 L864.55,173.84 L864.67,172.76 L864.78,171.72 L864.89,170.70 L864.99,169.72 L865.08,168.76 L865.17,167.82 L865.26,166.91 L865.33,166.01 L865.41,165.13 L865.48,164.26 L865.55,163.41 L865.62,162.55 L865.68,161.71 L865.74,160.86 L865.81,160.01 L865.87,159.16 L865.93,158.30 L865.99,157.43 L866.06,156.55 L866.12,155.66 L866.19,154.76 L866.25,153.86 L866.32,152.94 L866.39,152.02 L866.46,151.09 L866.53,150.16 L866.60,149.22 L866.68,148.27 L866.75,147.32 L866.82,146.37 L866.90,145.41 L866.98,144.45 L867.06,143.48 L867.14,142.52 L867.22,141.55 L867.30,140.58 L867.39,139.61 L867.47,138.64 L867.56,137.67 L867.65,136.70 L867.74,135.73 L867.83,134.76 L867.93,133.79 L868.03,132.83 L868.13,131.86 L868.23,130.90 L868.34,129.94 L868.45,128.98 L868.57,128.02 L868.69,127.06 L868.81,126.11 L868.94,125.16 L869.07,124.21 L869.21,123.26 L869.36,122.32 L869.51,121.38 L869.67,120.44 L869.83,119.50 L870.00,118.57 L870.18,117.64 L870.36,116.72 L870.56,115.79 L870.76,114.87 L870.96,113.96 L871.18,113.05 L871.41,112.14 L871.64,111.24 L871.88,110.34 L872.14,109.45 L872.40,108.56 L872.67,107.67 L872.95,106.79 L873.24,105.92 L873.55,105.05 L873.86,104.18 L874.19,103.32 L874.53,102.47 L874.88,101.62 L875.24,100.78 L875.61,99.94 L876.00,99.11 L876.40,98.28 L876.81,97.47 L877.23,96.65 L877.67,95.82 L878.12,94.99 L878.59,94.13 L879.07,93.25 L879.56,92.33 L880.06,91.37 L880.58,90.36 L881.11,89.30 L881.64,88.25 L882.17,87.26 L882.70,86.39 L883.20,85.72 L883.68,85.31 L884.13,85.21 L884.54,85.47 L884.92,86.02 L885.26,86.79 L885.59,87.69 L885.89,88.65 L886.18,89.62 L886.46,90.58 L886.73,91.55 L886.98,92.51 L887.21,93.48 L887.44,94.44 L887.65,95.40 L887.86,96.37 L888.05,97.33 L888.23,98.29 L888.41,99.25 L888.57,100.21 L888.72,101.17 L888.87,102.13 L889.01,103.08 L889.14,104.04 L889.26,104.99 L889.38,105.94 L889.49,106.90 L889.60,107.85 L889.70,108.79 L889.80,109.74 L889.89,110.69 L889.98,111.63 L890.07,112.57 L890.15,113.51 L890.23,114.45 L890.31,115.38 L890.39,116.31 L890.47,117.24 L890.54,118.17 L890.62,119.10 L890.70,120.02 L890.78,120.94 L890.86,121.86 L890.94,122.77 L891.02,123.68 L891.11,124.59 L891.20,125.50 L891.30,126.40 L891.40,127.30 L891.50,128.20 L891.62,129.10 L891.74,130.01 L891.87,130.91 L892.00,131.83 L892.15,132.75 L892.32,133.68 L892.49,134.62 L892.68,135.57 L892.89,136.53 L893.11,137.52 L893.35,138.51 L893.61,139.53 L893.89,140.57 L894.19,141.63 L894.51,142.69 L894.85,143.71 L895.22,144.62 L895.61,145.36 L896.02,145.87 L896.45,146.10 L896.90,145.99 L897.37,145.60 L897.84,144.97 L898.31,144.14 L898.78,143.16 L899.23,142.08 L899.65,140.94 L900.04,139.78 L900.40,138.64 L900.72,137.53 L901.01,136.44 L901.27,135.37 L901.50,134.33 L901.71,133.30 L901.89,132.29 L902.06,131.30 L902.20,130.33 L902.33,129.37 L902.44,128.43 L902.54,127.50 L902.64,126.59 L902.72,125.69 L902.80,124.79 L902.88,123.91 L902.96,123.04 L903.04,122.17 L903.13,121.31 L903.22,120.45 L903.32,119.60 L903.44,118.76 L903.56,117.91 L903.71,117.07 L903.87,116.23 L904.05,115.38 L904.26,114.54 L904.49,113.69 L904.75,112.84 L905.04,111.99 L905.36,111.12 L905.72,110.26 L906.11,109.38 L906.55,108.49 L907.02,107.60 L907.54,106.70 L908.11,105.81 L908.72,104.94 L909.38,104.10 L910.09,103.31 L910.86,102.58 L911.67,101.93 L912.52,101.38 L913.38,100.99 L914.24,100.77 L915.07,100.77 L915.85,101.01 L916.58,101.48 L917.26,102.11 L917.89,102.88 L918.46,103.72 L918.98,104.59 L919.44,105.48 L919.86,106.38 L920.24,107.29 L920.58,108.22 L920.88,109.14 L921.15,110.07 L921.40,111.01 L921.62,111.94 L921.83,112.87 L922.03,113.79 L922.21,114.70 L922.40,115.60 L922.58,116.48 L922.77,117.35 L922.96,118.20 L923.16,119.03 L923.38,119.86 L923.60,120.67 L923.82,121.49 L924.06,122.30 L924.31,123.13 L924.56,123.97 L924.82,124.83 L925.08,125.70 L925.36,126.61 L925.64,127.55 L925.92,128.52 L926.21,129.53 L926.51,130.59 L926.81,131.70 L927.12,132.87 L927.43,134.09 L927.75,135.35 L928.07,136.63 L928.41,137.90 L928.75,139.15 L929.10,140.34 L929.47,141.48 L929.84,142.52 L930.23,143.45 L930.64,144.25 L931.06,144.90 L931.50,145.37 L931.95,145.65 L932.43,145.72 L932.92,145.55 L933.44,145.13 L933.95,144.51 L934.46,143.72 L934.95,142.82 L935.39,141.83 L935.78,140.82 L936.12,139.79 L936.42,138.77 L936.68,137.75 L936.93,136.74 L937.17,135.76 L937.41,134.80 L937.68,133.88 L937.97,133.00 L938.31,132.17 L938.71,131.39 L939.17,130.68 L939.71,130.04 L940.35,129.47 L941.08,128.98 L941.88,128.53 L942.69,128.08 L943.47,127.59 L944.22,127.05 L944.93,126.47 L945.62,125.85 L946.27,125.20 L946.89,124.51 L947.49,123.79 L948.05,123.05 L948.58,122.28 L949.08,121.48 L949.56,120.67 L950.00,119.84 L950.42,118.99 L950.81,118.14 L951.18,117.26 L951.53,116.38 L951.85,115.49 L952.16,114.59 L952.46,113.68 L952.73,112.76 L953.00,111.84 L953.25,110.92 L953.49,109.99 L953.72,109.06 L953.95,108.14 L954.17,107.21 L954.39,106.29 L954.61,105.37 L954.83,104.46 L955.06,103.55 L955.29,102.65 L955.54,101.75 L955.80,100.86 L956.08,99.97 L956.38,99.09 L956.72,98.22 L957.08,97.36 L957.47,96.50 L957.91,95.64 L958.37,94.80 L958.85,93.95 L959.32,93.11 L959.76,92.26 L960.15,91.40 L960.47,90.52 L960.75,89.64 L960.99,88.76 L961.20,87.86 L961.41,86.97 L961.61,86.07 L961.84,85.17 L962.10,84.28 L962.41,83.40 L962.77,82.52 L963.22,81.65 L963.75,80.80 L964.38,79.96 L965.13,79.14 L965.97,78.36 L966.87,77.67 L967.78,77.09 L968.66,76.67 L969.48,76.44 L970.21,76.42 L970.87,76.58 L971.45,76.91 L971.97,77.39 L972.42,78.01 L972.82,78.74 L973.18,79.58 L973.48,80.51 L973.75,81.50 L973.99,82.56 L974.19,83.65 L974.38,84.76 L974.55,85.88 L974.70,86.99 L974.85,88.08 L975.00,89.14 L975.13,90.17 L975.27,91.19 L975.39,92.18 L975.52,93.16 L975.64,94.12 L975.75,95.07 L975.86,96.00 L975.97,96.91 L976.08,97.82 L976.18,98.72 L976.28,99.61 L976.38,100.50 L976.48,101.38 L976.57,102.26 L976.67,103.13 L976.76,104.01 L976.85,104.89 L976.95,105.78 L977.04,106.67 L977.13,107.56 L977.23,108.46 L977.32,109.37 L977.41,110.29 L977.51,111.20 L977.60,112.13 L977.70,113.06 L977.80,113.99 L977.89,114.93 L977.99,115.88 L978.09,116.82 L978.18,117.78 L978.28,118.73 L978.38,119.69 L978.48,120.65 L978.58,121.61 L978.68,122.58 L978.78,123.54 L978.88,124.51 L978.98,125.48 L979.08,126.45 L979.18,127.42 L979.28,128.40 L979.39,129.37 L979.49,130.34 L979.59,131.32 L979.70,132.29 L979.80,133.26 L979.91,134.23 L980.01,135.20 L980.12,136.17 L980.22,137.14 L980.33,138.10 L980.43,139.06 L980.54,140.02 L980.65,140.98 L980.76,141.93 L980.87,142.88 L980.98,143.82 L981.09,144.76 L981.20,145.70 L981.31,146.63 L981.42,147.56 L981.53,148.48 L981.64,149.40 L981.75,150.31 L981.87,151.21 L981.98,152.11 L982.09,153.00 L982.21,153.89 L982.32,154.77 L982.44,155.64 L982.55,156.50 L982.67,157.36 L982.79,158.21 L982.91,159.07 L983.04,159.93 L983.18,160.79 L983.32,161.67 L983.46,162.55 L983.62,163.44 L983.79,164.35 L983.97,165.28 L984.16,166.23 L984.36,167.21 L984.57,168.20 L984.81,169.23 L985.05,170.29 L985.32,171.38 L985.60,172.51 L985.90,173.68 L986.22,174.86 L986.55,176.03 L986.90,177.15 L987.26,178.18 L987.62,179.10 L987.98,179.87 L988.35,180.45 L988.72,180.81 L989.08,180.92 L989.44,180.76 L989.78,180.35 L990.12,179.73 L990.45,178.95 L990.77,178.05 L991.08,177.07 L991.38,176.04 L991.66,175.02 L991.93,173.99 L992.19,172.97 L992.44,171.96 L992.67,170.95 L992.90,169.95 L993.11,168.96 L993.31,167.97 L993.51,166.98 L993.69,166.00 L993.86,165.02 L994.03,164.05 L994.19,163.08 L994.34,162.11 L994.48,161.15 L994.62,160.20 L994.74,159.24 L994.87,158.29 L994.98,157.35 L995.09,156.40 L995.20,155.46 L995.30,154.53 L995.40,153.59 L995.49,152.66 L995.58,151.73 L995.67,150.80 L995.75,149.87 L995.83,148.95 L995.91,148.03 L995.99,147.11 L996.07,146.19 L996.15,145.27 L996.22,144.35 L996.30,143.43 L996.38,142.52 L996.46,141.60 L996.53,140.69 L996.62,139.77 L996.70,138.86 L996.79,137.95 L996.88,137.03 L996.97,136.12 L997.06,135.20 L997.16,134.29 L997.27,133.37 L997.38,132.45 L997.50,131.53 L997.62,130.61 L997.74,129.69 L997.88,128.77 L998.02,127.85 L998.17,126.92 L998.32,125.99 L998.49,125.06 L998.66,124.13 L998.84,123.19 L999.04,122.25 L999.24,121.31 L999.45,120.37 L999.67,119.42 L999.90,118.47 L1000.14,117.52 L1000.39,116.56 L1000.65,115.61 L1000.91,114.65 L1001.18,113.70 L1001.45,112.75 L1001.72,111.80 L1002.00,110.85 L1002.28,109.90 L1002.55,108.96 L1002.83,108.02 L1003.11,107.09 L1003.38,106.17 L1003.65,105.24 L1003.92,104.33 L1004.18,103.42 L1004.44,102.52 L1004.70,101.62 L1004.95,100.72 L1005.20,99.83 L1005.44,98.93 L1005.68,98.05 L1005.92,97.16 L1006.15,96.27 L1006.38,95.38 L1006.61,94.50 L1006.83,93.61 L1007.05,92.72 L1007.27,91.82 L1007.48,90.93 L1007.69,90.03 L1007.90,89.13 L1008.10,88.22 L1008.30,87.30 L1008.49,86.39 L1008.68,85.46 L1008.87,84.53 L1009.06,83.59 L1009.24,82.64 L1009.42,81.68 L1009.59,80.71 L1009.76,79.73 L1009.93,78.75 L1010.10,77.75 L1010.26,76.73 L1010.42,75.71 L1010.60,74.71 L1010.83,73.74 L1011.11,72.82 L1011.48,71.99 L1011.94,71.26 L1012.52,70.66 L1013.19,70.21 L1013.92,69.95 L1014.69,69.90 L1015.46,70.09 L1016.21,70.53 L1016.93,71.16 L1017.63,71.92 L1018.29,72.72 L1018.92,73.54 L1019.52,74.36 L1020.08,75.19 L1020.62,76.02 L1021.12,76.85 L1021.60,77.69 L1022.06,78.54 L1022.50,79.38 L1022.91,80.22 L1023.31,81.07 L1023.69,81.91 L1024.05,82.76 L1024.40,83.60 L1024.73,84.45 L1025.06,85.29 L1025.37,86.14 L1025.68,87.00 L1025.98,87.86 L1026.28,88.74 L1026.57,89.62 L1026.86,90.52 L1027.15,91.43 L1027.44,92.35 L1027.73,93.30 L1028.02,94.26 L1028.32,95.24 L1028.63,96.25 L1028.94,97.27 L1029.29,98.26 L1029.69,99.18 L1030.17,99.95 L1030.76,100.53 L1031.44,100.87 L1032.17,100.91 L1032.88,100.63 L1033.54,100.06 L1034.14,99.32 L1034.68,98.49 L1035.13,97.65 L1035.51,96.80 L1035.85,95.93 L1036.15,95.03 L1036.43,94.10 L1036.70,93.15 L1036.98,92.17 L1037.27,91.19 L1037.59,90.22 L1037.93,89.27 L1038.32,88.37 L1038.75,87.51 L1039.24,86.73 L1039.80,86.02 L1040.43,85.42 L1041.15,84.92 L1041.96,84.55 L1042.86,84.33 L1043.82,84.24 L1044.79,84.32 L1045.71,84.55 L1046.52,84.95 L1047.20,85.52 L1047.75,86.23 L1048.19,87.05 L1048.56,87.94 L1048.88,88.88 L1049.17,89.83 L1049.45,90.79 L1049.72,91.74 L1049.99,92.69 L1050.25,93.64 L1050.51,94.59 L1050.77,95.52 L1051.05,96.46 L1051.33,97.38 L1051.63,98.29 L1051.94,99.20 L1052.28,100.09 L1052.64,100.96 L1053.03,101.82 L1053.45,102.67 L1053.91,103.50 L1054.40,104.31 L1054.93,105.02 L1055.45,105.46 L1055.94,105.46 L1056.39,105.02 L1056.80,104.26 L1057.20,103.29 L1057.57,102.25 L1057.94,101.22 L1058.29,100.23 L1058.64,99.27 L1058.97,98.33 L1059.30,97.42 L1059.62,96.52 L1059.92,95.63 L1060.22,94.74 L1060.51,93.86 L1060.78,92.98 L1061.05,92.11 L1061.32,91.23 L1061.57,90.35 L1061.83,89.48 L1062.08,88.60 L1062.32,87.72 L1062.57,86.84 L1062.81,85.95 L1063.06,85.07 L1063.31,84.18 L1063.56,83.28 L1063.81,82.39 L1064.07,81.48 L1064.34,80.57 L1064.61,79.66 L1064.89,78.74 L1065.18,77.81 L1065.48,76.87 L1065.79,75.93 L1066.11,74.97 L1066.45,74.01 L1066.80,73.04 L1067.17,72.06 L1067.55,71.06 L1067.96,70.06 L1068.38,69.12 L1068.81,68.35 L1069.26,67.89 L1069.73,67.84 L1070.21,68.25 L1070.68,68.99 L1071.14,69.95 L1071.57,70.99 L1071.96,72.02 L1072.31,73.01 L1072.63,73.97 L1072.91,74.90 L1073.17,75.81 L1073.40,76.69 L1073.61,77.56 L1073.80,78.42 L1073.97,79.28 L1074.13,80.12 L1074.28,80.97 L1074.42,81.82 L1074.56,82.68 L1074.70,83.55 L1074.85,84.43 L1075.00,85.33 L1075.16,86.26 L1075.33,87.21 L1075.51,88.19 L1075.72,89.21 L1075.95,90.27 L1076.20,91.36 L1076.49,92.51 L1076.80,93.67 L1077.15,94.78 L1077.55,95.77 L1077.99,96.56 L1078.48,97.08 L1079.03,97.26 L1079.63,97.05 L1080.25,96.52 L1080.84,95.77 L1081.35,94.92 L1081.76,94.02 L1082.09,93.10 L1082.37,92.16 L1082.63,91.22 L1082.87,90.28 L1083.15,89.37 L1083.46,88.48 L1083.85,87.64 L1084.33,86.85 L1084.93,86.12 L1085.64,85.45 L1086.41,84.81 L1087.18,84.16 L1087.91,83.51 L1088.63,82.95 L1089.32,82.57 L1089.99,82.48 L1090.66,82.72 L1091.33,83.21 L1092.00,83.85 L1092.69,84.55 L1093.38,85.25 L1094.06,85.96 L1094.71,86.69 L1095.30,87.46 L1095.81,88.29 L1096.24,89.17 L1096.59,90.10 L1096.88,91.07 L1097.14,92.05 L1097.38,93.03 L1097.61,94.00 L1097.85,94.94 L1098.12,95.85 L1098.44,96.69 L1098.82,97.47 L1099.27,98.16 L1099.83,98.76 L1100.49,99.24 L1101.29,99.59 L1102.19,99.84 L1103.10,100.08 L1103.91,100.43 L1104.55,100.95 L1105.04,101.63 L1105.43,102.44 L1105.75,103.32 L1106.05,104.23 L1106.37,105.14 L1106.71,106.04 L1107.06,106.94 L1107.41,107.85 L1107.75,108.75 L1108.09,109.66 L1108.40,110.57 L1108.69,111.49 L1108.96,112.42 L1109.23,113.34 L1109.48,114.25 L1109.74,115.16 L1110.01,116.05 L1110.29,116.93 L1110.60,117.78 L1110.93,118.62 L1111.29,119.43 L1111.67,120.24 L1112.07,121.07 L1112.47,121.95 L1112.87,122.89 L1113.26,123.91 L1113.63,125.02 L1113.99,126.17 L1114.35,127.26 L1114.71,128.22 L1115.09,128.98 L1115.48,129.44 L1115.90,129.53 L1116.35,129.25 L1116.82,128.64 L1117.29,127.78 L1117.75,126.74 L1118.20,125.60 L1118.61,124.41 L1118.99,123.25 L1119.32,122.14 L1119.61,121.08 L1119.86,120.07 L1120.08,119.09 L1120.27,118.15 L1120.44,117.24 L1120.59,116.35 L1120.72,115.49 L1120.83,114.63 L1120.94,113.78 L1121.04,112.94 L1121.14,112.10 L1121.24,111.24 L1121.35,110.38 L1121.46,109.50 L1121.59,108.60 L1121.72,107.69 L1121.86,106.77 L1122.01,105.83 L1122.17,104.89 L1122.33,103.94 L1122.50,102.98 L1122.68,102.02 L1122.86,101.06 L1123.04,100.09 L1123.23,99.12 L1123.42,98.16 L1123.62,97.20 L1123.82,96.24 L1124.02,95.29 L1124.22,94.35 L1124.42,93.41 L1124.62,92.49 L1124.83,91.57 L1125.03,90.65 L1125.24,89.75 L1125.44,88.85 L1125.64,87.95 L1125.84,87.05 L1126.04,86.15 L1126.24,85.26 L1126.43,84.37 L1126.63,83.47 L1126.82,82.57 L1127.01,81.67 L1127.19,80.77 L1127.37,79.86 L1127.55,78.94 L1127.72,78.02 L1127.89,77.09 L1128.05,76.16 L1128.21,75.21 L1128.36,74.25 L1128.51,73.28 L1128.65,72.30 L1128.79,71.31 L1128.92,70.30 L1129.04,69.27 L1129.15,68.23 L1129.26,67.18 L1129.36,66.11 L1129.47,65.04 L1129.60,63.98 L1129.76,62.95 L1129.96,61.96 L1130.22,61.02 L1130.53,60.15 L1130.92,59.35 L1131.40,58.65 L1131.97,58.05 L1132.65,57.57 L1133.45,57.22 L1134.32,57.04 L1135.24,57.06 L1136.15,57.31 L1137.00,57.83 L1137.79,58.55 L1138.52,59.34 L1139.20,60.07 L1139.84,60.60 L1140.44,60.80 L1141.01,60.63 L1141.55,60.12 L1142.06,59.36 L1142.55,58.41 L1143.01,57.33 L1143.44,56.19 L1143.85,55.06 L1144.23,54.00 L1144.60,53.01 L1144.94,52.07 L1145.26,51.19 L1145.56,50.33 L1145.85,49.50 L1146.12,48.67 L1146.37,47.83 L1146.62,46.97 L1146.85,46.08 L1147.07,45.17 L1147.28,44.23 L1147.49,43.28 L1147.69,42.32 L1147.88,41.35 L1148.07,40.37 L1148.26,39.41 L1148.44,38.45 L1148.62,37.51 L1148.80,36.58 L1148.98,35.67 L1149.17,34.78 L1149.35,33.89 L1149.54,33.01 L1149.73,32.14 L1149.92,31.27 L1150.11,30.39 L1150.31,29.51 L1150.52,28.63 L1150.72,27.73 L1150.94,26.82 L1151.16,25.89 L1151.38,24.94 L1151.61,23.97 L1151.85,22.98 L1152.10,21.95 L1152.36,20.90 L1152.62,19.81 L1152.90,18.71 L1153.21,17.65 L1153.56,16.68 L1153.96,15.85 L1154.43,15.20 L1154.98,14.79 L1155.59,14.67 L1156.20,14.90 L1156.79,15.43 L1157.34,16.15 L1157.83,16.96 L1158.24,17.81 L1158.60,18.67 L1158.89,19.56 L1159.14,20.47 L1159.34,21.40 L1159.51,22.35 L1159.66,23.30 L1159.79,24.26 L1159.90,25.23 L1160.01,26.20 L1160.12,27.17 L1160.25,28.14 L1160.39,29.11 L1160.56,30.06 L1160.76,31.00 L1161.00,31.93 L1161.27,32.85 L1161.58,33.75 L1161.91,34.65 L1162.25,35.54 L1162.60,36.43 L1162.96,37.31 L1163.30,38.19 L1163.64,39.08 L1163.95,39.97 L1164.26,40.87 L1164.55,41.76 L1164.83,42.66 L1165.10,43.57 L1165.35,44.47 L1165.59,45.38 L1165.83,46.29 L1166.05,47.21 L1166.26,48.12 L1166.47,49.04 L1166.67,49.96 L1166.85,50.88 L1167.04,51.81 L1167.21,52.73 L1167.38,53.66 L1167.55,54.59 L1167.71,55.52 L1167.86,56.45 L1168.01,57.38 L1168.16,58.31 L1168.31,59.25 L1168.45,60.18 L1168.59,61.11 L1168.74,62.05 L1168.88,62.98 L1169.01,63.92 L1169.15,64.86 L1169.29,65.79 L1169.42,66.73 L1169.56,67.67 L1169.69,68.61 L1169.82,69.55 L1169.95,70.49 L1170.08,71.43 L1170.21,72.37 L1170.34,73.31 L1170.46,74.25 L1170.59,75.19 L1170.71,76.13 L1170.83,77.07 L1170.96,78.01 L1171.08,78.95 L1171.20,79.90 L1171.32,80.84 L1171.43,81.78 L1171.55,82.72 L1171.67,83.67 L1171.78,84.61 L1171.90,85.55 L1172.01,86.50 L1172.13,87.44 L1172.24,88.39 L1172.35,89.33 L1172.46,90.28 L1172.57,91.22 L1172.68,92.17 L1172.79,93.11 L1172.90,94.05 L1173.01,95.00 L1173.11,95.94 L1173.22,96.89 L1173.33,97.83 L1173.43,98.78 L1173.54,99.72 L1173.64,100.67 L1173.75,101.61 L1173.85,102.56 L1173.95,103.50 L1174.06,104.45 L1174.16,105.39 L1174.26,106.34 L1174.36,107.28 L1174.46,108.23 L1174.56,109.17 L1174.66,110.12 L1174.76,111.06 L1174.86,112.00 L1174.96,112.95 L1175.06,113.89 L1175.16,114.83 L1175.26,115.78 L1175.36,116.72 L1175.46,117.66 L1175.56,118.61 L1175.66,119.55 L1175.75,120.49 L1175.85,121.43 L1175.95,122.37 L1176.05,123.31 L1176.15,124.25 L1176.25,125.19 L1176.34,126.13 L1176.44,127.07 L1176.54,128.01 L1176.64,128.95 L1176.74,129.89 L1176.84,130.83 L1176.94,131.76 L1177.04,132.70 L1177.14,133.64 L1177.23,134.57 L1177.33,135.51 L1177.43,136.45 L1177.53,137.38 L1177.63,138.32 L1177.73,139.25 L1177.83,140.19 L1177.94,141.12 L1178.04,142.05 L1178.14,142.99 L1178.24,143.92 L1178.34,144.86 L1178.44,145.79 L1178.54,146.72 L1178.64,147.66 L1178.75,148.59 L1178.85,149.52 L1178.95,150.46 L1179.06,151.39 L1179.16,152.32 L1179.26,153.26 L1179.37,154.19 L1179.47,155.12 L1179.57,156.06 L1179.68,156.99 L1179.78,157.92 L1179.89,158.86 L1179.99,159.79 L1180.10,160.73 L1180.20,161.66 L1180.31,162.60 L1180.42,163.53 L1180.52,164.47 L1180.63,165.40 L1180.74,166.34 L1180.84,167.27 L1180.95,168.21 L1181.06,169.15 L1181.17,170.08 L1181.28,171.02 L1181.39,171.96 L1181.49,172.90 L1181.60,173.84 L1181.71,174.78 L1181.82,175.72 L1181.94,176.66 L1182.05,177.60 L1182.16,178.54 L1182.27,179.48 L1182.38,180.42 L1182.49,181.37 L1182.61,182.31 L1182.72,183.25 L1182.83,184.20 L1182.95,185.14 L1183.06,186.09 L1183.18,187.04 L1183.29,187.99 L1183.41,188.93 L1183.52,189.88 L1183.64,190.83 L1183.76,191.79 L1183.87,192.74 L1183.99,193.69 L1184.11,194.64 L1184.23,195.60 L1184.35,196.55 L1184.47,197.51 L1184.59,198.47 L1184.71,199.42 L1184.83,200.38 L1184.95,201.34 L1185.07,202.31 L1185.19,203.27 L1185.32,204.23 L1185.44,205.20 L1185.56,206.16 L1185.69,207.13 L1185.81,208.09 L1185.94,209.06 L1186.06,210.03 L1186.19,211.00 L1186.32,211.98 L1186.44,212.95 L1186.57,213.93 L1186.70,214.90 L1186.83,215.88 L1186.96,216.86 L1187.09,217.84 L1187.22,218.82 L1187.35,219.80 L1187.48,220.79 L1187.61,221.77 L1187.75,222.75 L1187.91,223.70 L1188.11,224.61 L1188.35,225.46 L1188.66,226.22 L1189.04,226.89 L1189.51,227.44 L1190.08,227.86 L1190.77,228.13 L1191.58,228.24 L1192.46,228.26 L1193.33,228.28 L1194.13,228.40 L1194.82,228.66 L1195.39,229.08 L1195.85,229.63 L1196.23,230.32 L1196.54,231.12 L1196.78,232.03 L1196.97,233.04 L1197.12,234.13 L1197.25,235.29 L1197.37,236.52 L1197.49,237.80 L1197.62,239.12 L1197.76,240.47 L1197.92,241.83 L1198.10,243.19 L1198.28,244.53 L1198.48,245.84 L1198.69,247.11 L1198.91,248.31 L1199.13,249.44 L1199.37,250.48 L1199.61,251.42 L1199.86,252.24 L1200.12,252.93 L1200.38,253.48 L1200.64,253.86 L1200.91,254.06 L1201.18,254.08 L1201.45,253.89 L1201.72,253.50 L1201.99,252.93 L1202.27,252.20 L1202.55,251.33 L1202.83,250.33 L1203.12,249.24 L1203.41,248.06 L1203.71,246.83 L1204.02,245.54 L1204.34,244.24 L1204.67,242.95 L1205.02,241.72 L1205.39,240.60 L1205.80,239.63 L1206.25,238.87 L1206.75,238.37 L1207.31,238.17 L1207.92,238.32 L1208.58,238.80 L1209.25,239.51 L1209.88,240.33 L1210.45,241.19 L1210.94,242.06 L1211.36,242.94 L1211.72,243.83 L1212.02,244.73 L1212.26,245.65 L1212.46,246.57 L1212.61,247.50 L1212.71,248.44 L1212.78,249.39 L1212.81,250.35 L1212.82,251.31 L1212.80,252.28 L1212.76,253.26 L1212.70,254.23 L1212.63,255.22 L1212.55,256.20 L1212.47,257.19 L1212.39,258.18 L1212.31,259.17 L1212.24,260.17 L1212.18,261.16 L1212.14,262.15 L1212.12,263.14 L1212.11,264.13 L1212.11,265.12 L1212.13,266.11 L1212.15,267.09 L1212.19,268.07 L1212.24,269.05 L1212.30,270.03 L1212.37,271.00 L1212.45,271.97 L1212.53,272.94 L1212.62,273.90 L1212.72,274.86 L1212.82,275.81 L1212.93,276.76 L1213.05,277.70 L1213.16,278.64 L1213.28,279.57 L1213.40,280.49 L1213.53,281.41 L1213.65,282.32 L1213.77,283.22 L1213.90,284.12 L1214.02,285.00 L1214.14,285.88 L1214.25,286.75 L1214.36,287.61 L1214.47,288.47 L1214.57,289.31 L1214.67,290.15 L1214.77,290.98 L1214.86,291.81 L1214.95,292.64 L1215.03,293.47 L1215.12,294.29 L1215.20,295.13 L1215.28,295.96 L1215.35,296.81 L1215.43,297.66 L1215.50,298.52 L1215.57,299.39 L1215.64,300.28 L1215.71,301.18 L1215.78,302.09 L1215.85,303.03 L1215.92,303.98 L1215.99,304.95 L1216.06,305.95 L1216.13,306.97 L1216.21,308.02 L1216.28,309.09 L1216.36,310.19 L1216.44,311.33 L1216.52,312.49 L1216.60,313.69 L1216.69,314.93 L1216.78,316.20 L1216.87,317.50 L1216.97,318.80 L1217.07,320.11 L1217.17,321.39 L1217.27,322.65 L1217.38,323.85 L1217.49,325.00 L1217.60,326.07 L1217.72,327.06 L1217.84,327.94 L1217.96,328.70 L1218.08,329.33 L1218.21,329.82 L1218.33,330.14 L1218.46,330.29 L1218.59,330.25 L1218.73,330.03 L1218.86,329.65 L1219.00,329.11 L1219.14,328.42 L1219.28,327.62 L1219.42,326.70 L1219.56,325.68 L1219.71,324.58 L1219.85,323.41 L1220.00,322.19 L1220.14,320.92 L1220.29,319.63 L1220.43,318.33 L1220.58,317.03 L1220.73,315.74 L1220.87,314.49 L1221.02,313.27 L1221.16,312.08 L1221.31,310.93 L1221.45,309.82 L1221.59,308.73 L1221.73,307.67 L1221.87,306.64 L1222.01,305.63 L1222.14,304.65 L1222.27,303.68 L1222.40,302.74 L1222.52,301.82 L1222.65,300.91 L1222.76,300.02 L1222.88,299.15 L1222.99,298.28 L1223.09,297.43 L1223.19,296.58 L1223.29,295.74 L1223.38,294.91 L1223.46,294.08 L1223.54,293.25 L1223.62,292.43 L1223.68,291.60 L1223.74,290.77 L1223.80,289.93 L1223.84,289.09 L1223.88,288.24 L1223.92,287.38 L1223.94,286.52 L1223.97,285.64 L1224.00,284.75 L1224.04,283.85 L1224.09,282.95 L1224.16,282.03 L1224.25,281.11 L1224.37,280.17 L1224.51,279.23 L1224.69,278.28 L1224.91,277.32 L1225.17,276.36 L1225.47,275.39 L1225.83,274.40 L1226.25,273.42 L1226.72,272.42 L1227.26,271.42 L1227.85,270.47 L1228.45,269.65 L1229.05,269.05 L1229.61,268.75 L1230.12,268.81 L1230.56,269.20 L1230.96,269.87 L1231.30,270.76 L1231.61,271.82 L1231.88,273.01 L1232.12,274.27 L1232.34,275.54 L1232.54,276.79 L1232.73,277.97 L1232.90,279.08 L1233.07,280.13 L1233.23,281.13 L1233.39,282.09 L1233.55,283.00 L1233.72,283.89 L1233.89,284.75 L1234.06,285.59 L1234.25,286.42 L1234.45,287.25 L1234.67,288.09 L1234.91,288.93 L1235.17,289.79 L1235.45,290.68 L1235.76,291.58 L1236.12,292.48 L1236.52,293.37 L1236.98,294.21 L1237.51,295.00 L1238.12,295.71 L1238.81,296.32 L1239.60,296.82 L1240.49,297.19 L1241.50,297.40" stroke="#27716e" stroke-width="1.8"/>
</g>
<path d="M30.3,514.1 V11.1 H1243 V514.1 Z" fill="none" stroke="#acacac" stroke-width="2.8"/>
<line x1="30" y1="130.3" x2="1246" y2="130.3" stroke="#7c7ba8" stroke-width="1.5"/>
<line x1="177.6" y1="12.4" x2="177.6" y2="518" stroke="#48487a" stroke-width="1.3"/>
<ellipse cx="791.8" cy="291.9" rx="40.5" ry="16.6" fill="#fff" stroke="#000" stroke-width="1.4" shape-rendering="crispEdges"/>
<ellipse cx="791.9" cy="292" rx="39.9" ry="14.5" fill="#ed1c24"/>
<g fill="#fff" opacity="0.95">
<path d="M753.3,287.5 L755.5,284.3 L759,282 L760.5,281.6 L760.5,287 L759.4,287 L759.4,294 L756,294.2 L753.5,292.5 Z"/>
<path d="M761,281.2 L764.3,280 L764.3,286.5 L761,286.6 Z"/>
<rect x="766.7" y="279.3" width="1.3" height="8.5"/>
<rect x="759.8" y="297.8" width="2.2" height="3.2"/>
<path d="M816.2,287.8 L817.5,284.3 L819,282 L820.5,284.5 L822,283 L823.5,281.8 L825,284.2 L826.5,283.2 L829.2,285.6 L829.5,287.8 Z"/>
</g>
<g class="ax">
<text x="31.9" y="526" text-anchor="middle">20</text>
<text x="102.9" y="526" text-anchor="middle">30</text>
<text x="153.3" y="526" text-anchor="middle">40</text>
<text x="192.4" y="526" text-anchor="middle">50</text>
<text x="224.3" y="526" text-anchor="middle">60</text>
<text x="251.3" y="526" text-anchor="middle">70</text>
<text x="274.7" y="526" text-anchor="middle">80</text>
<text x="295.3" y="526" text-anchor="middle">90</text>
<text x="313.8" y="526" text-anchor="middle">100</text>
<text x="435.2" y="526" text-anchor="middle">200</text>
<text x="506.2" y="526" text-anchor="middle">300</text>
<text x="556.6" y="526" text-anchor="middle">400</text>
<text x="595.7" y="526" text-anchor="middle">500</text>
<text x="627.6" y="526" text-anchor="middle">600</text>
<text x="654.6" y="526" text-anchor="middle">700</text>
<text x="678.0" y="526" text-anchor="middle">800</text>
<text x="698.6" y="526" text-anchor="middle">900</text>
<text x="717.1" y="526" text-anchor="middle">1k</text>
<text x="838.5" y="526" text-anchor="middle">2k</text>
<text x="909.5" y="526" text-anchor="middle">3k</text>
<text x="959.9" y="526" text-anchor="middle">4k</text>
<text x="999.0" y="526" text-anchor="middle">5k</text>
<text x="1030.9" y="526" text-anchor="middle">6k</text>
<text x="1057.9" y="526" text-anchor="middle">7k</text>
<text x="1081.3" y="526" text-anchor="middle">8k</text>
<text x="1101.9" y="526" text-anchor="middle">9k</text>
<text x="1120.4" y="526" text-anchor="middle">10k</text>
<text x="1242.5" y="526" text-anchor="end">20.0k</text>
<text x="1245.5" y="526">Hz</text>
<text x="27.4" y="517.4" text-anchor="end">85</text>
<text x="1245.6" y="517.0">-2</text>
<text x="27.4" y="487.9" text-anchor="end">86</text>
<text x="1245.6" y="487.5">0</text>
<text x="27.4" y="458.4" text-anchor="end">87</text>
<text x="1245.6" y="458.0">2</text>
<text x="27.4" y="429.0" text-anchor="end">88</text>
<text x="1245.6" y="428.6">4</text>
<text x="27.4" y="399.5" text-anchor="end">89</text>
<text x="1245.6" y="399.1">6</text>
<text x="27.4" y="370.0" text-anchor="end">90</text>
<text x="1245.6" y="369.6">8</text>
<text x="27.4" y="340.6" text-anchor="end">91</text>
<text x="1245.6" y="340.2">10</text>
<text x="27.4" y="311.1" text-anchor="end">92</text>
<text x="1245.6" y="310.7">12</text>
<text x="27.4" y="281.6" text-anchor="end">93</text>
<text x="1245.6" y="281.2">14</text>
<text x="27.4" y="252.1" text-anchor="end">94</text>
<text x="1245.6" y="251.7">16</text>
<text x="27.4" y="222.7" text-anchor="end">95</text>
<text x="1245.6" y="222.3">18</text>
<text x="27.4" y="193.2" text-anchor="end">96</text>
<text x="1245.6" y="192.8">20</text>
<text x="27.4" y="163.7" text-anchor="end">97</text>
<text x="1245.6" y="163.3">22</text>
<text x="27.4" y="134.3" text-anchor="end">98</text>
<text x="1245.6" y="133.9">24</text>
<text x="27.4" y="104.8" text-anchor="end">99</text>
<text x="1245.6" y="104.4">26</text>
<text x="27.4" y="75.3" text-anchor="end">100</text>
<text x="1245.6" y="74.9">28</text>
<text x="27.4" y="45.9" text-anchor="end">101</text>
<text x="1245.6" y="45.5">30</text>
<text x="27.4" y="16.4" text-anchor="end">102</text>
<text x="1245.6" y="16.0">32</text>
<text x="28.3" y="7.2" text-anchor="end">dB</text>
<text x="1245.5" y="7.2">ohm</text>
</g>
<rect x="2.5" y="124.5" width="28" height="11" fill="#fff" stroke="#38387e" stroke-width="1"/>
<text x="3.0" y="134" class="cur">98.01</text>
<rect x="1245.5" y="124.5" width="22" height="11" fill="#fff" stroke="#38387e" stroke-width="1"/>
<text x="1246.6" y="134.2" class="cur">24.0</text>
<rect x="165.5" y="517.5" width="23" height="11" fill="#fff" stroke="#38387e" stroke-width="1"/>
<text x="167.8" y="526.5" class="cur">46.0</text>
</svg>
</body></html>
